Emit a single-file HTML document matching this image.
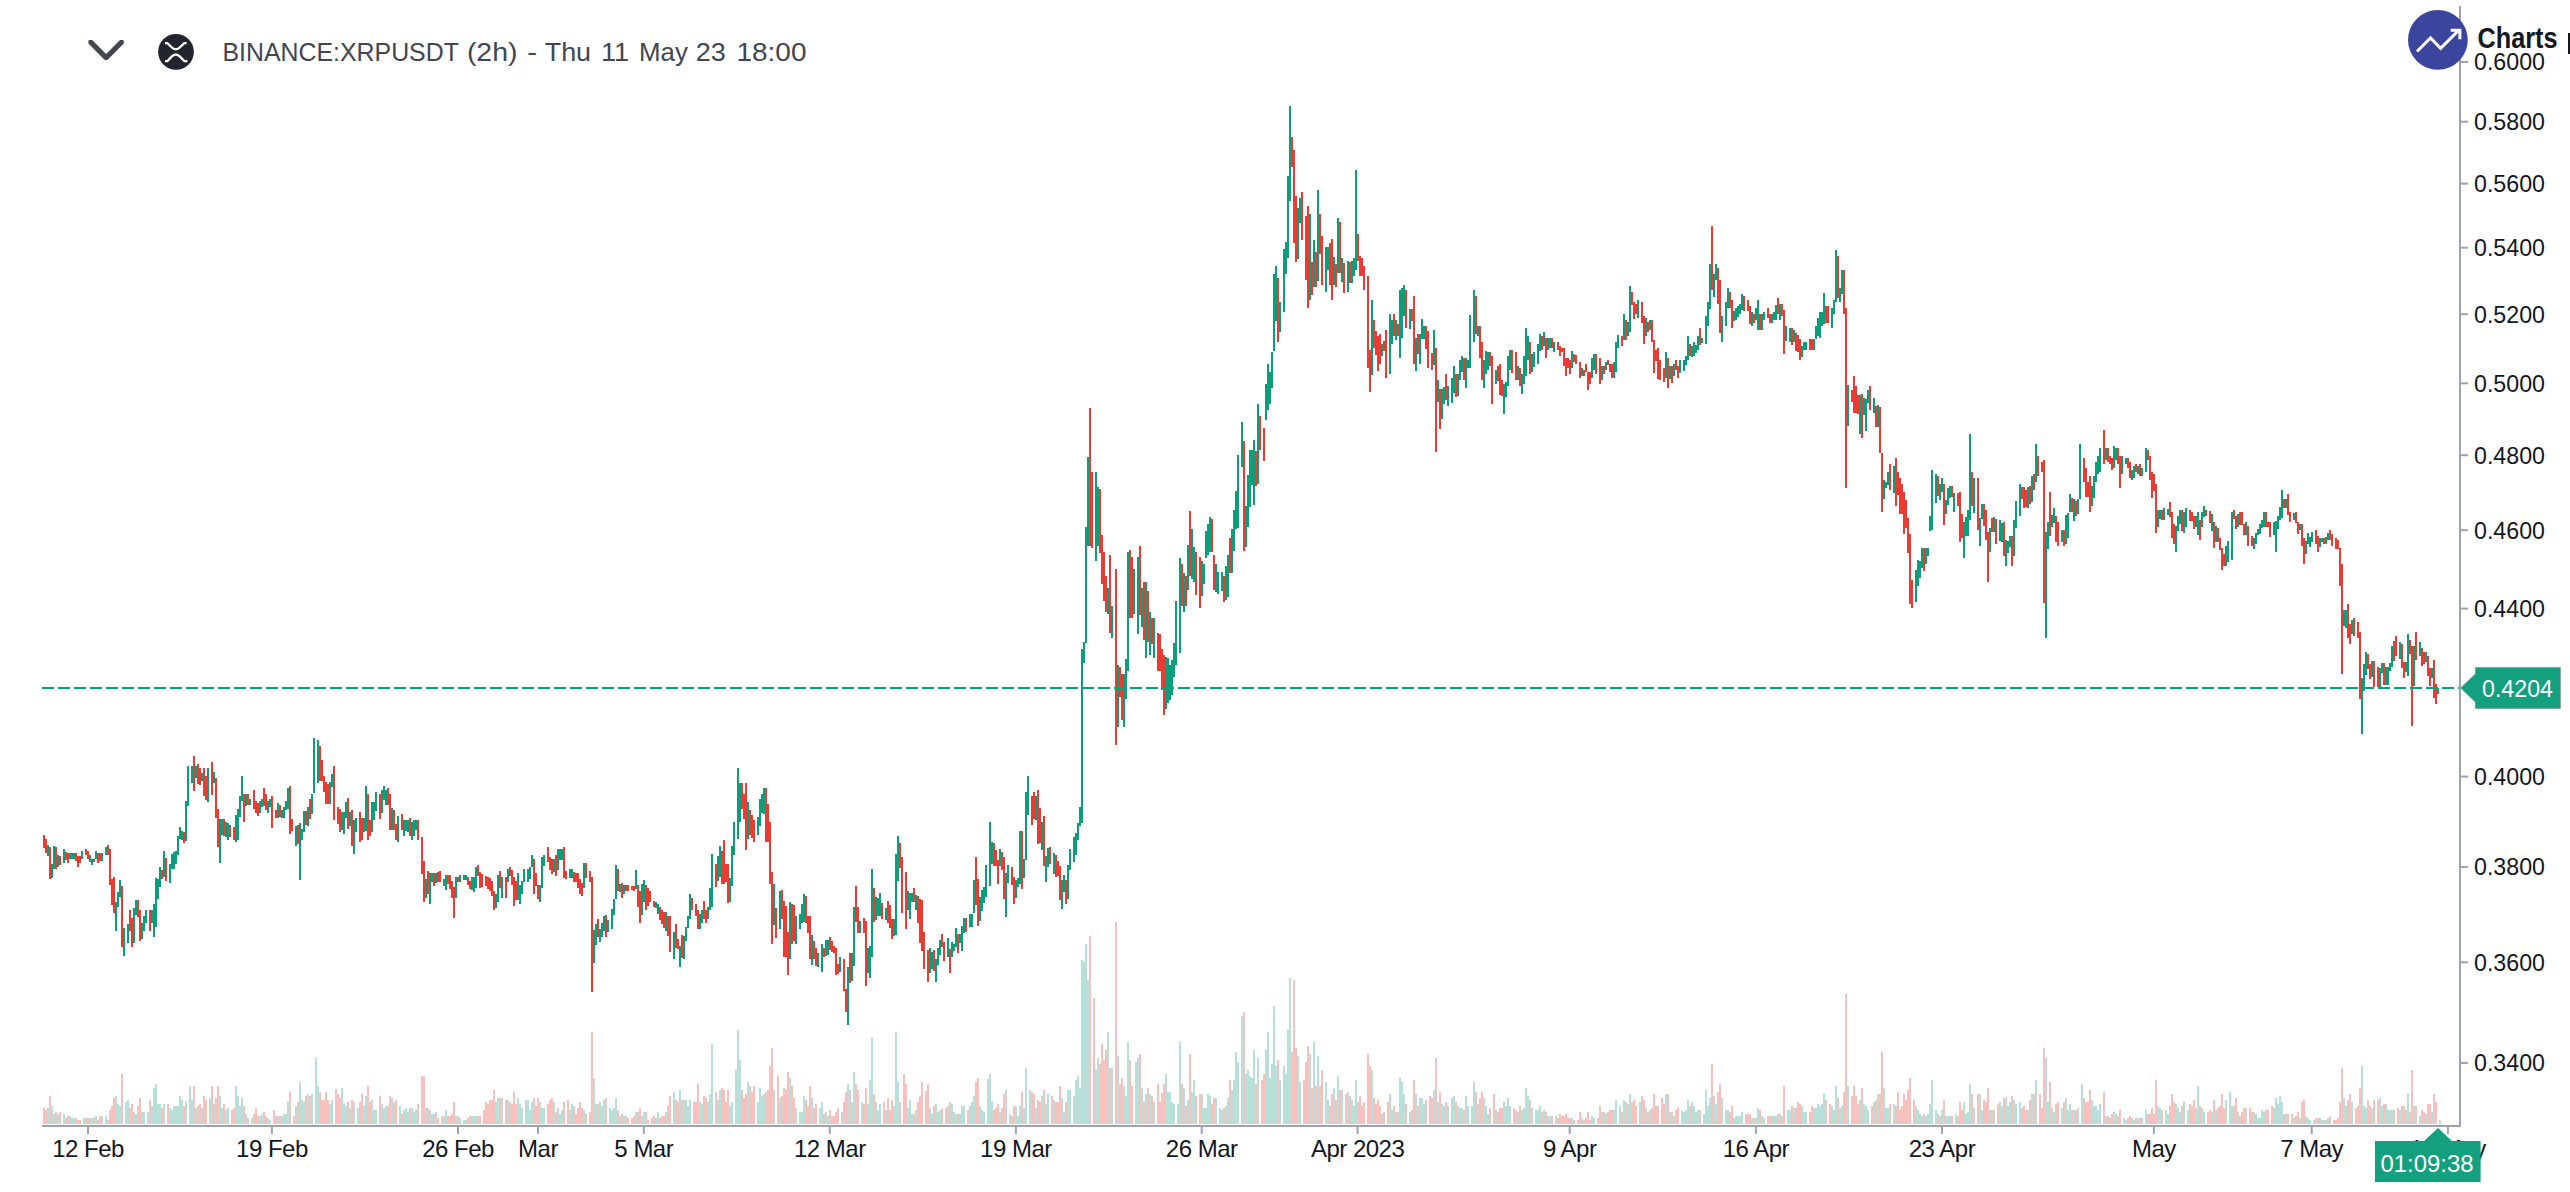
<!DOCTYPE html>
<html><head><meta charset="utf-8"><style>
html,body{margin:0;padding:0;background:#fff;width:2570px;height:1192px;overflow:hidden}
svg{position:absolute;left:0;top:0;font-family:"Liberation Sans",sans-serif}
</style></head><body>
<svg width="2570" height="1192" viewBox="0 0 2570 1192">
<g shape-rendering="crispEdges"><path fill="#b8e0d9" d="M47 1108.1h2V1124h-2zM51 1105.9h2V1124h-2zM53 1113.9h2V1124h-2zM57 1113.9h2V1124h-2zM63 1113.9h2V1124h-2zM69 1116.0h2V1124h-2zM71 1118.0h2V1124h-2zM73 1118.0h2V1124h-2zM83 1118.0h2V1124h-2zM89 1118.0h2V1124h-2zM91 1118.0h2V1124h-2zM95 1116.0h2V1124h-2zM101 1116.0h2V1124h-2zM105 1116.0h2V1124h-2zM115 1096.1h2V1124h-2zM117 1104.0h2V1124h-2zM119 1105.9h2V1124h-2zM125 1102.0h2V1124h-2zM127 1100.1h2V1124h-2zM133 1112.1h2V1124h-2zM135 1113.9h2V1124h-2zM141 1112.1h2V1124h-2zM143 1112.1h2V1124h-2zM147 1112.1h2V1124h-2zM151 1105.9h2V1124h-2zM153 1088.2h2V1124h-2zM155 1084.1h2V1124h-2zM157 1104.0h2V1124h-2zM159 1104.0h2V1124h-2zM163 1104.0h2V1124h-2zM169 1108.1h2V1124h-2zM171 1110.0h2V1124h-2zM173 1105.9h2V1124h-2zM175 1105.9h2V1124h-2zM177 1105.9h2V1124h-2zM179 1096.1h2V1124h-2zM181 1100.1h2V1124h-2zM185 1102.0h2V1124h-2zM189 1086.1h2V1124h-2zM191 1100.1h2V1124h-2zM195 1108.1h2V1124h-2zM201 1108.1h2V1124h-2zM209 1098.1h2V1124h-2zM213 1104.0h2V1124h-2zM219 1096.1h2V1124h-2zM221 1108.1h2V1124h-2zM225 1110.0h2V1124h-2zM227 1108.1h2V1124h-2zM235 1086.1h2V1124h-2zM237 1096.1h2V1124h-2zM239 1105.9h2V1124h-2zM241 1098.1h2V1124h-2zM245 1113.9h2V1124h-2zM251 1118.0h2V1124h-2zM259 1116.0h2V1124h-2zM261 1113.9h2V1124h-2zM267 1118.0h2V1124h-2zM269 1120.0h2V1124h-2zM277 1116.0h2V1124h-2zM281 1116.0h2V1124h-2zM283 1113.9h2V1124h-2zM285 1113.9h2V1124h-2zM287 1102.0h2V1124h-2zM295 1105.9h2V1124h-2zM299 1082.1h2V1124h-2zM301 1100.1h2V1124h-2zM303 1102.0h2V1124h-2zM307 1094.0h2V1124h-2zM311 1094.0h2V1124h-2zM315 1057.9h2V1124h-2zM317 1086.1h2V1124h-2zM329 1104.0h2V1124h-2zM331 1100.1h2V1124h-2zM341 1088.2h2V1124h-2zM343 1104.0h2V1124h-2zM345 1105.9h2V1124h-2zM349 1108.1h2V1124h-2zM353 1102.2h2V1124h-2zM357 1108.1h2V1124h-2zM363 1105.9h2V1124h-2zM365 1096.1h2V1124h-2zM371 1100.1h2V1124h-2zM373 1110.0h2V1124h-2zM375 1110.0h2V1124h-2zM381 1104.0h2V1124h-2zM383 1108.1h2V1124h-2zM385 1105.9h2V1124h-2zM391 1098.1h2V1124h-2zM399 1105.9h2V1124h-2zM403 1110.0h2V1124h-2zM405 1108.1h2V1124h-2zM407 1112.1h2V1124h-2zM411 1108.1h2V1124h-2zM413 1112.1h2V1124h-2zM415 1110.0h2V1124h-2zM425 1108.1h2V1124h-2zM429 1110.0h2V1124h-2zM431 1113.9h2V1124h-2zM435 1112.1h2V1124h-2zM443 1116.0h2V1124h-2zM445 1110.0h2V1124h-2zM455 1116.0h2V1124h-2zM459 1118.0h2V1124h-2zM463 1120.0h2V1124h-2zM465 1120.0h2V1124h-2zM471 1116.0h2V1124h-2zM473 1116.0h2V1124h-2zM475 1116.0h2V1124h-2zM495 1102.0h2V1124h-2zM497 1098.1h2V1124h-2zM501 1098.1h2V1124h-2zM507 1100.1h2V1124h-2zM517 1098.1h2V1124h-2zM519 1104.0h2V1124h-2zM521 1108.1h2V1124h-2zM525 1100.1h2V1124h-2zM527 1100.1h2V1124h-2zM529 1110.0h2V1124h-2zM531 1102.0h2V1124h-2zM539 1102.0h2V1124h-2zM541 1108.1h2V1124h-2zM543 1108.1h2V1124h-2zM553 1102.0h2V1124h-2zM557 1108.1h2V1124h-2zM559 1113.9h2V1124h-2zM561 1110.0h2V1124h-2zM569 1110.0h2V1124h-2zM571 1104.0h2V1124h-2zM583 1110.0h2V1124h-2zM593 1078.1h2V1124h-2zM595 1104.0h2V1124h-2zM599 1102.0h2V1124h-2zM601 1105.9h2V1124h-2zM603 1100.1h2V1124h-2zM609 1108.1h2V1124h-2zM611 1110.0h2V1124h-2zM613 1108.1h2V1124h-2zM615 1098.1h2V1124h-2zM619 1116.0h2V1124h-2zM623 1116.0h2V1124h-2zM635 1112.1h2V1124h-2zM641 1116.0h2V1124h-2zM643 1112.1h2V1124h-2zM655 1118.0h2V1124h-2zM657 1112.1h2V1124h-2zM665 1112.1h2V1124h-2zM673 1092.1h2V1124h-2zM679 1090.1h2V1124h-2zM683 1100.1h2V1124h-2zM685 1100.1h2V1124h-2zM687 1105.9h2V1124h-2zM689 1100.1h2V1124h-2zM699 1102.0h2V1124h-2zM701 1104.0h2V1124h-2zM707 1102.0h2V1124h-2zM709 1094.0h2V1124h-2zM711 1044.1h2V1124h-2zM717 1100.1h2V1124h-2zM719 1090.1h2V1124h-2zM729 1105.9h2V1124h-2zM731 1102.0h2V1124h-2zM735 1070.1h2V1124h-2zM737 1030.1h2V1124h-2zM739 1060.2h2V1124h-2zM747 1082.1h2V1124h-2zM757 1102.0h2V1124h-2zM759 1088.2h2V1124h-2zM761 1096.1h2V1124h-2zM763 1094.0h2V1124h-2zM773 1090.1h2V1124h-2zM779 1098.1h2V1124h-2zM789 1078.1h2V1124h-2zM795 1108.1h2V1124h-2zM799 1112.1h2V1124h-2zM801 1112.1h2V1124h-2zM803 1096.1h2V1124h-2zM811 1098.1h2V1124h-2zM819 1108.1h2V1124h-2zM821 1102.0h2V1124h-2zM825 1112.1h2V1124h-2zM827 1116.0h2V1124h-2zM841 1112.1h2V1124h-2zM847 1084.1h2V1124h-2zM851 1102.0h2V1124h-2zM853 1072.1h2V1124h-2zM861 1102.0h2V1124h-2zM867 1104.0h2V1124h-2zM869 1080.0h2V1124h-2zM871 1038.0h2V1124h-2zM875 1102.0h2V1124h-2zM877 1110.0h2V1124h-2zM879 1104.0h2V1124h-2zM885 1110.0h2V1124h-2zM893 1105.9h2V1124h-2zM895 1032.2h2V1124h-2zM897 1082.1h2V1124h-2zM907 1108.1h2V1124h-2zM909 1100.1h2V1124h-2zM911 1113.9h2V1124h-2zM915 1110.0h2V1124h-2zM929 1108.0h2V1124h-2zM931 1113.7h2V1124h-2zM935 1104.1h2V1124h-2zM937 1112.1h2V1124h-2zM939 1110.2h2V1124h-2zM947 1106.2h2V1124h-2zM951 1104.1h2V1124h-2zM953 1112.1h2V1124h-2zM955 1113.7h2V1124h-2zM959 1113.7h2V1124h-2zM961 1106.2h2V1124h-2zM963 1106.2h2V1124h-2zM969 1106.2h2V1124h-2zM971 1102.1h2V1124h-2zM973 1096.1h2V1124h-2zM979 1106.2h2V1124h-2zM981 1110.2h2V1124h-2zM983 1112.1h2V1124h-2zM987 1079.1h2V1124h-2zM989 1074.1h2V1124h-2zM991 1102.1h2V1124h-2zM999 1112.1h2V1124h-2zM1005 1090.2h2V1124h-2zM1009 1113.7h2V1124h-2zM1015 1106.2h2V1124h-2zM1017 1116.1h2V1124h-2zM1019 1106.2h2V1124h-2zM1023 1108.0h2V1124h-2zM1025 1067.8h2V1124h-2zM1029 1089.6h2V1124h-2zM1035 1108.0h2V1124h-2zM1041 1096.1h2V1124h-2zM1045 1104.1h2V1124h-2zM1047 1094.1h2V1124h-2zM1053 1100.0h2V1124h-2zM1061 1098.0h2V1124h-2zM1063 1112.1h2V1124h-2zM1067 1090.2h2V1124h-2zM1069 1090.2h2V1124h-2zM1073 1096.1h2V1124h-2zM1075 1080.3h2V1124h-2zM1077 1076.2h2V1124h-2zM1079 1088.0h2V1124h-2zM1081 960.0h2V1124h-2zM1083 961.8h2V1124h-2zM1085 944.0h2V1124h-2zM1087 980.2h2V1124h-2zM1095 1070.1h2V1124h-2zM1097 1058.0h2V1124h-2zM1107 1032.1h2V1124h-2zM1111 1067.8h2V1124h-2zM1117 1056.2h2V1124h-2zM1123 1086.1h2V1124h-2zM1125 1096.0h2V1124h-2zM1127 1042.2h2V1124h-2zM1135 1062.2h2V1124h-2zM1137 1058.2h2V1124h-2zM1141 1088.3h2V1124h-2zM1145 1094.2h2V1124h-2zM1149 1094.2h2V1124h-2zM1153 1102.1h2V1124h-2zM1165 1074.2h2V1124h-2zM1167 1092.2h2V1124h-2zM1169 1092.2h2V1124h-2zM1171 1102.1h2V1124h-2zM1173 1104.0h2V1124h-2zM1177 1104.0h2V1124h-2zM1179 1042.2h2V1124h-2zM1183 1088.3h2V1124h-2zM1187 1100.2h2V1124h-2zM1191 1092.2h2V1124h-2zM1193 1080.1h2V1124h-2zM1201 1094.2h2V1124h-2zM1203 1108.0h2V1124h-2zM1205 1108.0h2V1124h-2zM1207 1094.2h2V1124h-2zM1209 1096.0h2V1124h-2zM1215 1098.1h2V1124h-2zM1219 1108.0h2V1124h-2zM1221 1110.1h2V1124h-2zM1225 1106.0h2V1124h-2zM1227 1098.1h2V1124h-2zM1231 1090.1h2V1124h-2zM1233 1080.1h2V1124h-2zM1235 1052.3h2V1124h-2zM1237 1062.2h2V1124h-2zM1241 1016.1h2V1124h-2zM1245 1074.2h2V1124h-2zM1247 1069.9h2V1124h-2zM1249 1076.3h2V1124h-2zM1251 1078.1h2V1124h-2zM1253 1050.2h2V1124h-2zM1257 1058.2h2V1124h-2zM1265 1050.2h2V1124h-2zM1267 1032.2h2V1124h-2zM1269 1078.1h2V1124h-2zM1271 1064.3h2V1124h-2zM1273 1006.1h2V1124h-2zM1275 1066.0h2V1124h-2zM1279 1080.1h2V1124h-2zM1283 1066.0h2V1124h-2zM1285 1074.2h2V1124h-2zM1287 1030.2h2V1124h-2zM1289 978.0h2V1124h-2zM1297 1056.3h2V1124h-2zM1299 1082.2h2V1124h-2zM1309 1054.2h2V1124h-2zM1313 1042.2h2V1124h-2zM1317 1056.3h2V1124h-2zM1325 1082.1h2V1124h-2zM1327 1100.1h2V1124h-2zM1333 1088.2h2V1124h-2zM1337 1076.1h2V1124h-2zM1341 1090.1h2V1124h-2zM1347 1092.1h2V1124h-2zM1351 1100.1h2V1124h-2zM1353 1105.9h2V1124h-2zM1355 1080.0h2V1124h-2zM1371 1070.1h2V1124h-2zM1381 1113.9h2V1124h-2zM1389 1094.0h2V1124h-2zM1391 1110.0h2V1124h-2zM1395 1112.1h2V1124h-2zM1399 1078.1h2V1124h-2zM1401 1082.1h2V1124h-2zM1403 1094.0h2V1124h-2zM1409 1112.1h2V1124h-2zM1415 1094.0h2V1124h-2zM1419 1098.1h2V1124h-2zM1421 1098.1h2V1124h-2zM1423 1104.0h2V1124h-2zM1433 1090.1h2V1124h-2zM1437 1102.0h2V1124h-2zM1441 1104.0h2V1124h-2zM1443 1105.9h2V1124h-2zM1447 1105.9h2V1124h-2zM1451 1098.1h2V1124h-2zM1453 1096.1h2V1124h-2zM1457 1105.9h2V1124h-2zM1459 1108.1h2V1124h-2zM1461 1108.1h2V1124h-2zM1465 1096.1h2V1124h-2zM1467 1105.9h2V1124h-2zM1471 1105.9h2V1124h-2zM1473 1082.1h2V1124h-2zM1477 1104.0h2V1124h-2zM1483 1098.1h2V1124h-2zM1485 1105.9h2V1124h-2zM1487 1113.9h2V1124h-2zM1495 1110.0h2V1124h-2zM1503 1102.0h2V1124h-2zM1505 1105.9h2V1124h-2zM1507 1098.1h2V1124h-2zM1509 1105.9h2V1124h-2zM1517 1112.1h2V1124h-2zM1521 1110.0h2V1124h-2zM1523 1108.1h2V1124h-2zM1525 1088.2h2V1124h-2zM1527 1096.1h2V1124h-2zM1531 1108.1h2V1124h-2zM1535 1110.0h2V1124h-2zM1537 1110.0h2V1124h-2zM1539 1105.9h2V1124h-2zM1543 1110.0h2V1124h-2zM1547 1116.0h2V1124h-2zM1549 1116.0h2V1124h-2zM1555 1116.0h2V1124h-2zM1571 1118.0h2V1124h-2zM1581 1118.0h2V1124h-2zM1591 1116.0h2V1124h-2zM1593 1118.0h2V1124h-2zM1601 1112.1h2V1124h-2zM1605 1113.9h2V1124h-2zM1613 1110.1h2V1124h-2zM1615 1100.2h2V1124h-2zM1619 1106.0h2V1124h-2zM1623 1100.2h2V1124h-2zM1627 1104.2h2V1124h-2zM1629 1094.2h2V1124h-2zM1639 1102.3h2V1124h-2zM1645 1108.2h2V1124h-2zM1649 1110.1h2V1124h-2zM1665 1094.2h2V1124h-2zM1669 1112.0h2V1124h-2zM1673 1116.0h2V1124h-2zM1681 1111.1h2V1124h-2zM1683 1112.0h2V1124h-2zM1685 1110.1h2V1124h-2zM1687 1100.2h2V1124h-2zM1691 1102.3h2V1124h-2zM1693 1106.0h2V1124h-2zM1695 1112.0h2V1124h-2zM1697 1110.1h2V1124h-2zM1703 1114.1h2V1124h-2zM1705 1090.3h2V1124h-2zM1707 1106.0h2V1124h-2zM1709 1098.2h2V1124h-2zM1713 1096.1h2V1124h-2zM1715 1104.2h2V1124h-2zM1721 1098.2h2V1124h-2zM1725 1110.1h2V1124h-2zM1727 1110.1h2V1124h-2zM1733 1118.1h2V1124h-2zM1735 1116.0h2V1124h-2zM1737 1116.0h2V1124h-2zM1739 1116.0h2V1124h-2zM1741 1112.0h2V1124h-2zM1751 1118.1h2V1124h-2zM1755 1118.1h2V1124h-2zM1757 1108.2h2V1124h-2zM1761 1116.0h2V1124h-2zM1763 1118.1h2V1124h-2zM1771 1116.0h2V1124h-2zM1773 1116.0h2V1124h-2zM1775 1116.0h2V1124h-2zM1779 1114.1h2V1124h-2zM1787 1110.1h2V1124h-2zM1789 1110.1h2V1124h-2zM1793 1108.2h2V1124h-2zM1801 1106.0h2V1124h-2zM1803 1112.0h2V1124h-2zM1805 1112.0h2V1124h-2zM1813 1108.2h2V1124h-2zM1815 1108.2h2V1124h-2zM1817 1104.2h2V1124h-2zM1819 1106.0h2V1124h-2zM1821 1104.2h2V1124h-2zM1823 1094.2h2V1124h-2zM1831 1106.0h2V1124h-2zM1833 1110.1h2V1124h-2zM1835 1086.2h2V1124h-2zM1839 1108.2h2V1124h-2zM1841 1106.0h2V1124h-2zM1847 1086.2h2V1124h-2zM1859 1100.2h2V1124h-2zM1863 1104.2h2V1124h-2zM1865 1106.0h2V1124h-2zM1867 1110.1h2V1124h-2zM1873 1102.3h2V1124h-2zM1877 1094.2h2V1124h-2zM1883 1088.3h2V1124h-2zM1885 1108.2h2V1124h-2zM1887 1108.2h2V1124h-2zM1893 1104.2h2V1124h-2zM1915 1105.9h2V1124h-2zM1917 1110.0h2V1124h-2zM1919 1113.9h2V1124h-2zM1921 1116.0h2V1124h-2zM1925 1116.0h2V1124h-2zM1927 1113.9h2V1124h-2zM1929 1104.0h2V1124h-2zM1931 1080.0h2V1124h-2zM1935 1110.0h2V1124h-2zM1939 1116.0h2V1124h-2zM1941 1110.0h2V1124h-2zM1945 1116.0h2V1124h-2zM1947 1116.0h2V1124h-2zM1949 1116.0h2V1124h-2zM1955 1113.9h2V1124h-2zM1963 1102.0h2V1124h-2zM1965 1113.9h2V1124h-2zM1967 1112.1h2V1124h-2zM1969 1084.1h2V1124h-2zM1973 1108.1h2V1124h-2zM1979 1094.0h2V1124h-2zM1981 1110.0h2V1124h-2zM1989 1110.0h2V1124h-2zM1993 1110.0h2V1124h-2zM1999 1102.0h2V1124h-2zM2001 1105.9h2V1124h-2zM2005 1098.1h2V1124h-2zM2007 1105.9h2V1124h-2zM2009 1102.0h2V1124h-2zM2013 1100.1h2V1124h-2zM2015 1104.0h2V1124h-2zM2019 1102.0h2V1124h-2zM2027 1110.0h2V1124h-2zM2031 1094.0h2V1124h-2zM2035 1080.0h2V1124h-2zM2045 1058.1h2V1124h-2zM2047 1102.0h2V1124h-2zM2051 1108.1h2V1124h-2zM2053 1112.1h2V1124h-2zM2061 1108.1h2V1124h-2zM2065 1098.1h2V1124h-2zM2067 1110.0h2V1124h-2zM2069 1104.0h2V1124h-2zM2073 1110.0h2V1124h-2zM2077 1108.1h2V1124h-2zM2081 1084.1h2V1124h-2zM2091 1100.1h2V1124h-2zM2093 1105.9h2V1124h-2zM2095 1105.9h2V1124h-2zM2097 1110.0h2V1124h-2zM2099 1104.0h2V1124h-2zM2105 1116.0h2V1124h-2zM2113 1112.1h2V1124h-2zM2115 1113.9h2V1124h-2zM2123 1118.0h2V1124h-2zM2125 1120.0h2V1124h-2zM2131 1118.0h2V1124h-2zM2133 1120.0h2V1124h-2zM2137 1118.0h2V1124h-2zM2141 1118.0h2V1124h-2zM2145 1110.0h2V1124h-2zM2157 1105.9h2V1124h-2zM2159 1108.1h2V1124h-2zM2165 1110.0h2V1124h-2zM2167 1113.9h2V1124h-2zM2175 1104.0h2V1124h-2zM2177 1108.1h2V1124h-2zM2179 1112.1h2V1124h-2zM2183 1102.0h2V1124h-2zM2187 1110.0h2V1124h-2zM2195 1108.1h2V1124h-2zM2197 1086.1h2V1124h-2zM2201 1108.0h2V1124h-2zM2203 1112.0h2V1124h-2zM2211 1112.0h2V1124h-2zM2215 1110.0h2V1124h-2zM2225 1100.1h2V1124h-2zM2229 1092.2h2V1124h-2zM2231 1106.0h2V1124h-2zM2237 1112.0h2V1124h-2zM2245 1108.0h2V1124h-2zM2253 1112.0h2V1124h-2zM2255 1114.0h2V1124h-2zM2257 1117.9h2V1124h-2zM2259 1117.9h2V1124h-2zM2261 1110.0h2V1124h-2zM2263 1112.0h2V1124h-2zM2273 1108.0h2V1124h-2zM2275 1098.1h2V1124h-2zM2277 1104.1h2V1124h-2zM2279 1096.1h2V1124h-2zM2281 1102.1h2V1124h-2zM2285 1114.0h2V1124h-2zM2293 1117.9h2V1124h-2zM2299 1117.9h2V1124h-2zM2305 1115.9h2V1124h-2zM2307 1117.9h2V1124h-2zM2309 1119.9h2V1124h-2zM2313 1119.9h2V1124h-2zM2319 1117.9h2V1124h-2zM2321 1119.9h2V1124h-2zM2325 1119.9h2V1124h-2zM2327 1117.9h2V1124h-2zM2343 1098.1h2V1124h-2zM2345 1106.0h2V1124h-2zM2351 1102.1h2V1124h-2zM2361 1065.9h2V1124h-2zM2363 1106.0h2V1124h-2zM2365 1108.0h2V1124h-2zM2371 1108.0h2V1124h-2zM2379 1098.1h2V1124h-2zM2381 1106.0h2V1124h-2zM2385 1104.1h2V1124h-2zM2387 1110.0h2V1124h-2zM2389 1110.0h2V1124h-2zM2391 1110.0h2V1124h-2zM2399 1110.0h2V1124h-2zM2405 1110.0h2V1124h-2zM2407 1094.2h2V1124h-2zM2413 1106.0h2V1124h-2zM2419 1115.9h2V1124h-2zM2425 1114.0h2V1124h-2zM2431 1112.0h2V1124h-2zM2439 1119.9h2V1124h-2z"/>
<path fill="#f7c1bf" d="M43 1108.1h2V1124h-2zM45 1109.8h2V1124h-2zM49 1096.1h2V1124h-2zM55 1112.1h2V1124h-2zM59 1112.1h2V1124h-2zM65 1118.0h2V1124h-2zM67 1116.0h2V1124h-2zM75 1118.0h2V1124h-2zM77 1120.0h2V1124h-2zM79 1120.0h2V1124h-2zM85 1118.0h2V1124h-2zM87 1118.0h2V1124h-2zM93 1118.0h2V1124h-2zM97 1120.0h2V1124h-2zM99 1116.0h2V1124h-2zM107 1120.0h2V1124h-2zM109 1110.0h2V1124h-2zM111 1105.9h2V1124h-2zM113 1098.1h2V1124h-2zM121 1074.0h2V1124h-2zM129 1108.1h2V1124h-2zM131 1104.0h2V1124h-2zM137 1105.9h2V1124h-2zM139 1098.1h2V1124h-2zM149 1100.1h2V1124h-2zM161 1108.1h2V1124h-2zM167 1104.0h2V1124h-2zM183 1105.9h2V1124h-2zM193 1086.1h2V1124h-2zM197 1105.9h2V1124h-2zM199 1104.0h2V1124h-2zM203 1096.1h2V1124h-2zM205 1100.1h2V1124h-2zM211 1086.1h2V1124h-2zM215 1098.1h2V1124h-2zM217 1086.1h2V1124h-2zM223 1104.0h2V1124h-2zM231 1110.0h2V1124h-2zM233 1108.1h2V1124h-2zM243 1105.9h2V1124h-2zM247 1118.0h2V1124h-2zM253 1113.9h2V1124h-2zM255 1108.1h2V1124h-2zM257 1116.0h2V1124h-2zM263 1112.1h2V1124h-2zM265 1116.0h2V1124h-2zM273 1110.0h2V1124h-2zM275 1116.0h2V1124h-2zM279 1116.0h2V1124h-2zM289 1092.3h2V1124h-2zM293 1116.0h2V1124h-2zM297 1102.0h2V1124h-2zM305 1096.1h2V1124h-2zM309 1096.1h2V1124h-2zM319 1092.3h2V1124h-2zM321 1100.1h2V1124h-2zM323 1100.1h2V1124h-2zM325 1092.3h2V1124h-2zM327 1100.1h2V1124h-2zM335 1089.0h2V1124h-2zM337 1094.0h2V1124h-2zM339 1098.1h2V1124h-2zM347 1102.2h2V1124h-2zM351 1100.1h2V1124h-2zM359 1102.2h2V1124h-2zM361 1094.0h2V1124h-2zM367 1086.1h2V1124h-2zM369 1102.2h2V1124h-2zM379 1096.1h2V1124h-2zM387 1105.9h2V1124h-2zM389 1096.1h2V1124h-2zM393 1102.2h2V1124h-2zM395 1100.1h2V1124h-2zM401 1113.9h2V1124h-2zM409 1108.1h2V1124h-2zM417 1104.0h2V1124h-2zM421 1076.0h2V1124h-2zM423 1076.0h2V1124h-2zM427 1108.1h2V1124h-2zM433 1113.9h2V1124h-2zM437 1118.0h2V1124h-2zM441 1116.0h2V1124h-2zM447 1116.0h2V1124h-2zM449 1116.0h2V1124h-2zM451 1113.9h2V1124h-2zM453 1102.0h2V1124h-2zM457 1116.0h2V1124h-2zM467 1118.0h2V1124h-2zM469 1116.0h2V1124h-2zM477 1116.0h2V1124h-2zM479 1116.0h2V1124h-2zM483 1110.0h2V1124h-2zM485 1102.0h2V1124h-2zM487 1104.0h2V1124h-2zM489 1100.1h2V1124h-2zM491 1100.1h2V1124h-2zM493 1090.1h2V1124h-2zM499 1098.1h2V1124h-2zM505 1100.1h2V1124h-2zM509 1102.0h2V1124h-2zM511 1104.0h2V1124h-2zM513 1092.1h2V1124h-2zM515 1104.0h2V1124h-2zM533 1098.1h2V1124h-2zM535 1105.9h2V1124h-2zM537 1098.1h2V1124h-2zM547 1104.0h2V1124h-2zM549 1100.1h2V1124h-2zM551 1098.1h2V1124h-2zM555 1112.1h2V1124h-2zM563 1102.0h2V1124h-2zM567 1100.1h2V1124h-2zM573 1105.9h2V1124h-2zM575 1113.9h2V1124h-2zM577 1108.1h2V1124h-2zM579 1102.0h2V1124h-2zM581 1108.1h2V1124h-2zM585 1113.9h2V1124h-2zM589 1112.1h2V1124h-2zM591 1031.9h2V1124h-2zM597 1104.0h2V1124h-2zM605 1098.1h2V1124h-2zM617 1110.0h2V1124h-2zM621 1113.9h2V1124h-2zM625 1116.0h2V1124h-2zM627 1118.0h2V1124h-2zM631 1118.0h2V1124h-2zM633 1116.0h2V1124h-2zM637 1112.1h2V1124h-2zM639 1108.1h2V1124h-2zM645 1112.1h2V1124h-2zM647 1120.0h2V1124h-2zM651 1118.0h2V1124h-2zM653 1116.0h2V1124h-2zM659 1118.0h2V1124h-2zM661 1116.0h2V1124h-2zM663 1116.0h2V1124h-2zM667 1105.9h2V1124h-2zM669 1096.1h2V1124h-2zM675 1100.1h2V1124h-2zM677 1102.0h2V1124h-2zM681 1100.1h2V1124h-2zM693 1102.0h2V1124h-2zM695 1102.0h2V1124h-2zM697 1084.1h2V1124h-2zM703 1096.1h2V1124h-2zM705 1098.1h2V1124h-2zM715 1092.1h2V1124h-2zM721 1088.2h2V1124h-2zM723 1090.1h2V1124h-2zM725 1102.0h2V1124h-2zM727 1090.1h2V1124h-2zM741 1090.1h2V1124h-2zM743 1098.1h2V1124h-2zM745 1094.0h2V1124h-2zM749 1086.1h2V1124h-2zM751 1092.1h2V1124h-2zM753 1086.1h2V1124h-2zM765 1092.1h2V1124h-2zM767 1090.1h2V1124h-2zM769 1066.0h2V1124h-2zM771 1048.1h2V1124h-2zM777 1076.1h2V1124h-2zM781 1096.1h2V1124h-2zM783 1088.2h2V1124h-2zM785 1090.1h2V1124h-2zM787 1072.1h2V1124h-2zM791 1086.1h2V1124h-2zM793 1098.1h2V1124h-2zM805 1100.1h2V1124h-2zM807 1105.9h2V1124h-2zM809 1086.1h2V1124h-2zM813 1108.1h2V1124h-2zM815 1104.0h2V1124h-2zM823 1113.9h2V1124h-2zM829 1110.0h2V1124h-2zM831 1116.0h2V1124h-2zM833 1116.0h2V1124h-2zM835 1112.1h2V1124h-2zM837 1108.1h2V1124h-2zM843 1102.0h2V1124h-2zM845 1092.1h2V1124h-2zM849 1090.1h2V1124h-2zM855 1084.1h2V1124h-2zM857 1090.1h2V1124h-2zM863 1104.0h2V1124h-2zM865 1088.2h2V1124h-2zM873 1094.0h2V1124h-2zM883 1102.0h2V1124h-2zM887 1098.1h2V1124h-2zM889 1110.0h2V1124h-2zM891 1100.1h2V1124h-2zM899 1102.0h2V1124h-2zM903 1074.0h2V1124h-2zM905 1084.1h2V1124h-2zM913 1113.9h2V1124h-2zM917 1102.0h2V1124h-2zM919 1096.1h2V1124h-2zM921 1082.1h2V1124h-2zM925 1090.5h2V1124h-2zM927 1083.9h2V1124h-2zM933 1106.2h2V1124h-2zM941 1108.0h2V1124h-2zM945 1108.0h2V1124h-2zM949 1102.1h2V1124h-2zM957 1113.7h2V1124h-2zM967 1110.2h2V1124h-2zM975 1082.1h2V1124h-2zM977 1078.2h2V1124h-2zM993 1110.2h2V1124h-2zM995 1108.0h2V1124h-2zM997 1104.1h2V1124h-2zM1001 1108.0h2V1124h-2zM1003 1094.1h2V1124h-2zM1011 1116.1h2V1124h-2zM1013 1106.2h2V1124h-2zM1021 1091.9h2V1124h-2zM1031 1091.9h2V1124h-2zM1033 1094.1h2V1124h-2zM1037 1100.0h2V1124h-2zM1039 1102.1h2V1124h-2zM1043 1090.2h2V1124h-2zM1051 1096.1h2V1124h-2zM1055 1102.1h2V1124h-2zM1057 1102.1h2V1124h-2zM1059 1086.2h2V1124h-2zM1065 1102.1h2V1124h-2zM1089 936.1h2V1124h-2zM1093 998.1h2V1124h-2zM1099 1064.2h2V1124h-2zM1101 1044.0h2V1124h-2zM1103 1060.1h2V1124h-2zM1105 1049.9h2V1124h-2zM1109 1067.8h2V1124h-2zM1115 922.1h2V1124h-2zM1119 1083.9h2V1124h-2zM1121 1078.2h2V1124h-2zM1129 1060.1h2V1124h-2zM1131 1086.1h2V1124h-2zM1139 1054.2h2V1124h-2zM1143 1102.1h2V1124h-2zM1147 1088.3h2V1124h-2zM1151 1096.0h2V1124h-2zM1157 1084.0h2V1124h-2zM1159 1102.1h2V1124h-2zM1161 1092.5h2V1124h-2zM1163 1084.0h2V1124h-2zM1181 1084.0h2V1124h-2zM1185 1106.0h2V1124h-2zM1189 1054.2h2V1124h-2zM1195 1096.0h2V1124h-2zM1199 1094.2h2V1124h-2zM1211 1104.0h2V1124h-2zM1213 1098.1h2V1124h-2zM1223 1108.0h2V1124h-2zM1229 1080.1h2V1124h-2zM1243 1012.1h2V1124h-2zM1255 1084.0h2V1124h-2zM1261 1080.1h2V1124h-2zM1263 1074.2h2V1124h-2zM1277 1060.1h2V1124h-2zM1291 1052.3h2V1124h-2zM1293 980.2h2V1124h-2zM1295 1048.1h2V1124h-2zM1303 1080.1h2V1124h-2zM1305 1062.2h2V1124h-2zM1307 1046.3h2V1124h-2zM1311 1088.3h2V1124h-2zM1315 1086.1h2V1124h-2zM1319 1086.1h2V1124h-2zM1321 1070.1h2V1124h-2zM1329 1105.9h2V1124h-2zM1331 1094.0h2V1124h-2zM1335 1100.1h2V1124h-2zM1339 1090.1h2V1124h-2zM1345 1094.0h2V1124h-2zM1349 1096.1h2V1124h-2zM1357 1102.0h2V1124h-2zM1359 1096.1h2V1124h-2zM1361 1105.9h2V1124h-2zM1363 1102.0h2V1124h-2zM1367 1054.1h2V1124h-2zM1369 1066.0h2V1124h-2zM1373 1098.1h2V1124h-2zM1375 1104.0h2V1124h-2zM1377 1100.1h2V1124h-2zM1379 1105.9h2V1124h-2zM1383 1112.1h2V1124h-2zM1387 1102.0h2V1124h-2zM1393 1105.9h2V1124h-2zM1397 1112.1h2V1124h-2zM1405 1104.0h2V1124h-2zM1411 1110.0h2V1124h-2zM1413 1080.0h2V1124h-2zM1417 1105.9h2V1124h-2zM1425 1100.1h2V1124h-2zM1429 1096.1h2V1124h-2zM1431 1098.1h2V1124h-2zM1435 1058.1h2V1124h-2zM1439 1092.1h2V1124h-2zM1445 1102.0h2V1124h-2zM1455 1102.0h2V1124h-2zM1463 1110.0h2V1124h-2zM1475 1092.1h2V1124h-2zM1479 1098.1h2V1124h-2zM1481 1092.1h2V1124h-2zM1489 1108.1h2V1124h-2zM1493 1094.0h2V1124h-2zM1497 1112.1h2V1124h-2zM1499 1108.1h2V1124h-2zM1501 1108.1h2V1124h-2zM1513 1108.1h2V1124h-2zM1515 1110.0h2V1124h-2zM1519 1105.9h2V1124h-2zM1529 1100.1h2V1124h-2zM1541 1112.1h2V1124h-2zM1545 1112.1h2V1124h-2zM1551 1116.0h2V1124h-2zM1557 1118.0h2V1124h-2zM1559 1113.9h2V1124h-2zM1561 1116.0h2V1124h-2zM1563 1116.0h2V1124h-2zM1565 1113.9h2V1124h-2zM1567 1118.0h2V1124h-2zM1569 1118.0h2V1124h-2zM1573 1120.0h2V1124h-2zM1577 1120.0h2V1124h-2zM1579 1112.1h2V1124h-2zM1583 1120.0h2V1124h-2zM1585 1118.0h2V1124h-2zM1587 1112.1h2V1124h-2zM1589 1120.0h2V1124h-2zM1597 1118.0h2V1124h-2zM1599 1105.9h2V1124h-2zM1603 1112.1h2V1124h-2zM1607 1112.1h2V1124h-2zM1609 1110.0h2V1124h-2zM1611 1110.0h2V1124h-2zM1621 1112.0h2V1124h-2zM1625 1102.3h2V1124h-2zM1631 1102.3h2V1124h-2zM1633 1100.2h2V1124h-2zM1635 1106.0h2V1124h-2zM1641 1096.1h2V1124h-2zM1643 1100.2h2V1124h-2zM1647 1112.0h2V1124h-2zM1651 1108.2h2V1124h-2zM1653 1094.2h2V1124h-2zM1655 1106.0h2V1124h-2zM1657 1106.0h2V1124h-2zM1661 1098.2h2V1124h-2zM1663 1104.2h2V1124h-2zM1667 1094.2h2V1124h-2zM1671 1112.0h2V1124h-2zM1675 1110.1h2V1124h-2zM1677 1108.2h2V1124h-2zM1689 1106.0h2V1124h-2zM1699 1110.1h2V1124h-2zM1711 1064.2h2V1124h-2zM1717 1092.4h2V1124h-2zM1719 1084.3h2V1124h-2zM1729 1112.0h2V1124h-2zM1731 1106.0h2V1124h-2zM1745 1114.1h2V1124h-2zM1747 1114.1h2V1124h-2zM1749 1114.1h2V1124h-2zM1753 1118.1h2V1124h-2zM1759 1110.1h2V1124h-2zM1767 1116.0h2V1124h-2zM1769 1116.0h2V1124h-2zM1777 1114.1h2V1124h-2zM1781 1116.0h2V1124h-2zM1783 1086.2h2V1124h-2zM1791 1106.0h2V1124h-2zM1795 1108.2h2V1124h-2zM1797 1102.3h2V1124h-2zM1799 1104.2h2V1124h-2zM1809 1112.0h2V1124h-2zM1811 1106.0h2V1124h-2zM1825 1100.2h2V1124h-2zM1829 1104.2h2V1124h-2zM1837 1098.2h2V1124h-2zM1843 1092.4h2V1124h-2zM1845 994.3h2V1124h-2zM1851 1096.1h2V1124h-2zM1853 1086.2h2V1124h-2zM1855 1096.1h2V1124h-2zM1857 1104.2h2V1124h-2zM1861 1088.3h2V1124h-2zM1871 1106.0h2V1124h-2zM1875 1100.2h2V1124h-2zM1879 1094.2h2V1124h-2zM1881 1052.0h2V1124h-2zM1889 1104.2h2V1124h-2zM1895 1106.0h2V1124h-2zM1897 1092.4h2V1124h-2zM1899 1110.1h2V1124h-2zM1901 1106.0h2V1124h-2zM1903 1094.2h2V1124h-2zM1905 1100.2h2V1124h-2zM1907 1090.1h2V1124h-2zM1909 1078.1h2V1124h-2zM1913 1100.1h2V1124h-2zM1923 1113.9h2V1124h-2zM1937 1113.9h2V1124h-2zM1943 1100.1h2V1124h-2zM1951 1116.0h2V1124h-2zM1957 1116.0h2V1124h-2zM1959 1102.0h2V1124h-2zM1961 1110.0h2V1124h-2zM1971 1094.0h2V1124h-2zM1977 1094.0h2V1124h-2zM1983 1100.1h2V1124h-2zM1985 1102.0h2V1124h-2zM1987 1088.2h2V1124h-2zM1991 1110.0h2V1124h-2zM1997 1104.0h2V1124h-2zM2003 1098.1h2V1124h-2zM2011 1096.1h2V1124h-2zM2021 1108.1h2V1124h-2zM2023 1105.9h2V1124h-2zM2025 1110.0h2V1124h-2zM2029 1100.1h2V1124h-2zM2033 1094.0h2V1124h-2zM2039 1094.0h2V1124h-2zM2041 1108.1h2V1124h-2zM2043 1048.1h2V1124h-2zM2049 1082.1h2V1124h-2zM2055 1104.0h2V1124h-2zM2057 1102.0h2V1124h-2zM2063 1102.0h2V1124h-2zM2071 1110.0h2V1124h-2zM2075 1110.0h2V1124h-2zM2083 1098.1h2V1124h-2zM2085 1102.0h2V1124h-2zM2087 1102.0h2V1124h-2zM2089 1090.1h2V1124h-2zM2103 1092.1h2V1124h-2zM2107 1116.0h2V1124h-2zM2109 1118.0h2V1124h-2zM2111 1113.9h2V1124h-2zM2117 1116.0h2V1124h-2zM2119 1110.0h2V1124h-2zM2127 1118.0h2V1124h-2zM2129 1116.0h2V1124h-2zM2135 1118.0h2V1124h-2zM2139 1118.0h2V1124h-2zM2147 1113.9h2V1124h-2zM2149 1113.9h2V1124h-2zM2151 1108.1h2V1124h-2zM2153 1113.9h2V1124h-2zM2155 1080.0h2V1124h-2zM2161 1110.0h2V1124h-2zM2169 1105.9h2V1124h-2zM2171 1094.0h2V1124h-2zM2173 1102.0h2V1124h-2zM2181 1105.9h2V1124h-2zM2189 1104.0h2V1124h-2zM2191 1105.9h2V1124h-2zM2193 1100.1h2V1124h-2zM2199 1105.9h2V1124h-2zM2207 1112.0h2V1124h-2zM2209 1110.0h2V1124h-2zM2213 1100.1h2V1124h-2zM2217 1108.0h2V1124h-2zM2219 1106.0h2V1124h-2zM2221 1094.2h2V1124h-2zM2223 1108.0h2V1124h-2zM2233 1106.0h2V1124h-2zM2235 1098.1h2V1124h-2zM2239 1115.9h2V1124h-2zM2241 1112.0h2V1124h-2zM2243 1108.0h2V1124h-2zM2249 1108.0h2V1124h-2zM2251 1112.0h2V1124h-2zM2265 1110.0h2V1124h-2zM2267 1110.0h2V1124h-2zM2271 1106.0h2V1124h-2zM2283 1114.0h2V1124h-2zM2287 1114.0h2V1124h-2zM2291 1114.0h2V1124h-2zM2295 1115.9h2V1124h-2zM2297 1112.0h2V1124h-2zM2301 1102.1h2V1124h-2zM2303 1100.1h2V1124h-2zM2315 1117.9h2V1124h-2zM2317 1117.9h2V1124h-2zM2323 1119.9h2V1124h-2zM2329 1115.9h2V1124h-2zM2333 1120.2h2V1124h-2zM2335 1119.9h2V1124h-2zM2337 1117.9h2V1124h-2zM2339 1102.1h2V1124h-2zM2341 1067.9h2V1124h-2zM2347 1100.1h2V1124h-2zM2349 1094.2h2V1124h-2zM2355 1108.0h2V1124h-2zM2357 1106.0h2V1124h-2zM2359 1088.2h2V1124h-2zM2367 1100.1h2V1124h-2zM2369 1106.0h2V1124h-2zM2373 1100.1h2V1124h-2zM2377 1100.1h2V1124h-2zM2383 1104.1h2V1124h-2zM2393 1110.0h2V1124h-2zM2397 1108.0h2V1124h-2zM2401 1106.0h2V1124h-2zM2403 1106.0h2V1124h-2zM2409 1112.0h2V1124h-2zM2411 1069.9h2V1124h-2zM2415 1106.0h2V1124h-2zM2421 1110.0h2V1124h-2zM2423 1112.0h2V1124h-2zM2427 1104.1h2V1124h-2zM2429 1104.1h2V1124h-2zM2433 1094.2h2V1124h-2zM2435 1102.1h2V1124h-2z"/></g>
<g shape-rendering="crispEdges"><path fill="#0a9e7a" d="M47 844.8h2V855.8h-2zM51 863.9h2V878.0h-2zM53 846.4h2V868.9h-2zM57 854.8h2V866.9h-2zM63 848.8h2V862.9h-2zM69 852.8h2V858.9h-2zM71 852.8h2V858.9h-2zM73 852.8h2V858.9h-2zM81 850.8h2V858.9h-2zM89 854.8h2V861.9h-2zM91 858.9h2V864.9h-2zM95 850.8h2V858.9h-2zM101 852.8h2V860.9h-2zM105 846.8h2V854.8h-2zM115 902.1h2V931.3h-2zM117 892.1h2V907.2h-2zM119 880.0h2V897.1h-2zM123 928.3h2V955.5h-2zM127 924.3h2V943.4h-2zM133 908.2h2V943.4h-2zM135 900.1h2V915.2h-2zM141 923.3h2V939.4h-2zM143 916.2h2V931.3h-2zM145 910.2h2V923.3h-2zM151 910.2h2V923.3h-2zM153 904.1h2V937.4h-2zM155 878.0h2V927.3h-2zM157 879.0h2V899.1h-2zM159 866.9h2V887.0h-2zM163 850.8h2V877.0h-2zM169 863.9h2V883.0h-2zM171 853.8h2V868.9h-2zM173 851.8h2V868.9h-2zM175 850.8h2V863.9h-2zM177 835.7h2V854.8h-2zM179 826.6h2V838.7h-2zM181 830.7h2V839.7h-2zM185 800.5h2V840.7h-2zM187 766.2h2V805.5h-2zM191 766.2h2V783.4h-2zM195 766.2h2V778.3h-2zM201 773.3h2V781.3h-2zM207 768.3h2V801.5h-2zM213 772.3h2V783.4h-2zM219 818.6h2V862.9h-2zM221 818.6h2V834.7h-2zM225 821.6h2V836.7h-2zM227 822.6h2V839.7h-2zM235 814.6h2V841.7h-2zM237 808.5h2V839.7h-2zM239 796.4h2V816.6h-2zM241 776.3h2V800.5h-2zM245 794.4h2V805.5h-2zM249 798.5h2V804.5h-2zM259 800.5h2V812.5h-2zM261 798.5h2V806.5h-2zM267 800.5h2V812.5h-2zM269 798.5h2V806.5h-2zM277 802.5h2V817.6h-2zM281 809.5h2V817.6h-2zM283 806.5h2V817.6h-2zM285 800.5h2V809.5h-2zM287 788.4h2V808.5h-2zM295 825.6h2V845.8h-2zM299 822.6h2V880.0h-2zM301 828.7h2V839.7h-2zM303 810.5h2V831.7h-2zM307 806.5h2V825.6h-2zM311 794.4h2V813.6h-2zM313 738.1h2V793.4h-2zM317 740.1h2V783.4h-2zM329 782.3h2V803.5h-2zM331 774.3h2V787.4h-2zM341 812.3h2V829.5h-2zM343 812.3h2V833.5h-2zM345 802.3h2V818.4h-2zM349 812.3h2V826.4h-2zM353 820.4h2V853.6h-2zM355 818.4h2V831.5h-2zM363 818.4h2V831.5h-2zM365 786.2h2V830.5h-2zM371 802.3h2V831.5h-2zM373 802.3h2V820.4h-2zM375 792.2h2V811.3h-2zM381 790.2h2V813.4h-2zM383 786.2h2V800.3h-2zM385 790.2h2V805.3h-2zM391 808.3h2V829.5h-2zM397 816.4h2V841.5h-2zM403 820.4h2V835.5h-2zM405 820.4h2V830.5h-2zM407 820.4h2V831.5h-2zM411 822.4h2V839.5h-2zM413 820.4h2V835.5h-2zM415 820.4h2V829.5h-2zM425 878.8h2V897.9h-2zM429 872.7h2V904.0h-2zM431 872.7h2V881.8h-2zM435 872.7h2V882.8h-2zM443 878.8h2V885.8h-2zM445 874.8h2V889.9h-2zM455 876.8h2V897.9h-2zM459 874.8h2V881.8h-2zM463 874.8h2V879.8h-2zM465 874.8h2V879.8h-2zM471 876.8h2V889.9h-2zM473 876.8h2V891.9h-2zM475 866.7h2V887.8h-2zM495 893.9h2V908.0h-2zM497 874.8h2V901.9h-2zM501 876.8h2V897.9h-2zM507 868.7h2V881.8h-2zM517 872.7h2V899.9h-2zM519 884.8h2V904.0h-2zM521 880.8h2V893.9h-2zM523 868.7h2V881.8h-2zM527 868.7h2V881.8h-2zM529 866.7h2V878.8h-2zM531 854.6h2V866.7h-2zM539 884.8h2V901.9h-2zM541 856.6h2V887.8h-2zM543 854.6h2V865.7h-2zM553 858.7h2V871.7h-2zM557 848.6h2V869.7h-2zM559 848.6h2V859.7h-2zM561 848.6h2V859.7h-2zM569 868.7h2V877.8h-2zM571 868.7h2V877.8h-2zM583 862.7h2V887.8h-2zM593 930.1h2V963.3h-2zM595 924.1h2V945.2h-2zM599 929.1h2V942.2h-2zM601 923.1h2V937.2h-2zM603 916.0h2V931.1h-2zM607 920.1h2V932.1h-2zM611 909.0h2V929.1h-2zM613 898.9h2V915.0h-2zM615 864.7h2V898.9h-2zM619 883.8h2V891.9h-2zM623 884.8h2V893.9h-2zM635 869.9h2V889.2h-2zM641 883.5h2V915.2h-2zM643 880.1h2V901.6h-2zM655 901.6h2V908.4h-2zM657 903.9h2V914.1h-2zM665 911.8h2V931.1h-2zM673 932.2h2V959.4h-2zM679 945.8h2V967.3h-2zM683 935.6h2V959.4h-2zM685 926.6h2V941.3h-2zM687 916.4h2V927.7h-2zM689 893.7h2V918.6h-2zM699 914.1h2V928.8h-2zM701 909.6h2V923.2h-2zM707 907.3h2V918.6h-2zM709 888.0h2V909.6h-2zM711 854.0h2V907.3h-2zM717 856.3h2V881.2h-2zM719 846.1h2V876.7h-2zM729 877.8h2V901.6h-2zM731 846.1h2V885.8h-2zM733 822.3h2V855.2h-2zM737 767.9h2V839.3h-2zM739 782.7h2V822.3h-2zM747 801.9h2V839.3h-2zM757 816.7h2V834.8h-2zM759 798.5h2V825.7h-2zM761 794.0h2V813.3h-2zM763 788.3h2V814.4h-2zM773 883.5h2V925.4h-2zM779 891.4h2V928.8h-2zM789 901.6h2V959.4h-2zM795 916.4h2V943.5h-2zM799 914.1h2V928.8h-2zM801 903.9h2V923.2h-2zM803 893.7h2V922.0h-2zM811 934.5h2V965.1h-2zM817 952.6h2V967.3h-2zM821 943.5h2V971.9h-2zM825 940.1h2V956.0h-2zM827 940.1h2V954.9h-2zM839 957.1h2V971.9h-2zM847 967.3h2V1025.1h-2zM851 952.6h2V980.9h-2zM853 907.3h2V966.2h-2zM859 920.9h2V933.4h-2zM867 948.1h2V973.0h-2zM869 945.8h2V977.5h-2zM871 868.8h2V957.1h-2zM875 897.1h2V919.8h-2zM877 898.2h2V916.4h-2zM879 892.6h2V916.4h-2zM885 908.4h2V919.8h-2zM893 918.6h2V935.6h-2zM895 854.0h2V934.5h-2zM897 835.9h2V881.2h-2zM907 891.4h2V909.6h-2zM909 892.6h2V918.6h-2zM911 892.6h2V901.6h-2zM915 894.8h2V909.6h-2zM929 948.2h2V973.4h-2zM931 952.3h2V969.4h-2zM935 959.3h2V981.5h-2zM937 948.2h2V965.4h-2zM939 940.2h2V955.3h-2zM947 938.2h2V957.3h-2zM951 942.2h2V957.3h-2zM953 944.2h2V951.3h-2zM955 928.1h2V947.2h-2zM959 934.1h2V943.2h-2zM961 926.1h2V951.3h-2zM963 918.0h2V933.1h-2zM969 914.0h2V927.1h-2zM971 914.0h2V927.1h-2zM973 879.8h2V913.0h-2zM979 896.9h2V921.1h-2zM981 889.9h2V911.0h-2zM983 886.8h2V902.9h-2zM985 864.7h2V896.9h-2zM989 822.4h2V885.8h-2zM991 841.5h2V863.7h-2zM999 848.6h2V865.7h-2zM1005 872.7h2V917.0h-2zM1007 864.7h2V882.8h-2zM1015 879.8h2V897.9h-2zM1017 877.8h2V886.8h-2zM1019 830.5h2V883.8h-2zM1023 858.7h2V877.8h-2zM1025 792.2h2V859.7h-2zM1027 776.1h2V815.4h-2zM1035 796.2h2V820.4h-2zM1041 822.4h2V849.6h-2zM1045 855.6h2V881.8h-2zM1047 847.6h2V866.7h-2zM1053 852.6h2V873.8h-2zM1061 879.8h2V909.0h-2zM1063 874.8h2V891.9h-2zM1067 864.7h2V898.9h-2zM1069 848.6h2V869.7h-2zM1073 837.0h2V862.0h-2zM1075 833.0h2V855.0h-2zM1077 823.0h2V840.0h-2zM1079 807.0h2V826.0h-2zM1081 649.0h2V823.0h-2zM1083 642.0h2V663.0h-2zM1085 527.0h2V643.0h-2zM1087 457.0h2V546.0h-2zM1095 472.0h2V561.0h-2zM1097 487.0h2V546.0h-2zM1107 588.0h2V614.0h-2zM1111 606.0h2V638.0h-2zM1117 665.0h2V727.0h-2zM1123 674.0h2V727.0h-2zM1125 659.0h2V699.0h-2zM1127 552.0h2V671.0h-2zM1133 569.0h2V614.0h-2zM1137 557.0h2V634.0h-2zM1141 588.0h2V627.0h-2zM1145 582.0h2V658.0h-2zM1149 612.0h2V655.0h-2zM1153 618.0h2V658.0h-2zM1165 656.5h2V709.0h-2zM1167 658.0h2V703.0h-2zM1169 665.0h2V700.0h-2zM1171 660.0h2V695.0h-2zM1173 643.0h2V677.0h-2zM1175 600.5h2V665.0h-2zM1179 558.0h2V653.0h-2zM1183 573.0h2V612.0h-2zM1187 545.0h2V590.0h-2zM1191 529.0h2V579.0h-2zM1193 547.0h2V582.0h-2zM1201 560.5h2V596.0h-2zM1203 564.0h2V584.0h-2zM1205 531.0h2V558.0h-2zM1207 524.0h2V555.0h-2zM1209 517.0h2V552.0h-2zM1215 563.5h2V592.0h-2zM1217 572.0h2V594.0h-2zM1221 572.0h2V591.0h-2zM1225 565.5h2V599.5h-2zM1227 555.0h2V597.0h-2zM1231 529.0h2V573.0h-2zM1233 510.0h2V551.0h-2zM1235 491.0h2V529.0h-2zM1237 455.0h2V528.0h-2zM1241 422.0h2V467.0h-2zM1245 506.0h2V547.0h-2zM1247 475.0h2V527.0h-2zM1249 450.0h2V507.0h-2zM1251 450.0h2V485.0h-2zM1253 440.0h2V505.0h-2zM1257 404.0h2V484.0h-2zM1265 384.0h2V420.0h-2zM1267 364.0h2V410.0h-2zM1269 372.0h2V404.0h-2zM1271 352.0h2V388.0h-2zM1273 274.0h2V351.0h-2zM1275 266.0h2V321.0h-2zM1279 302.0h2V332.0h-2zM1283 249.0h2V312.0h-2zM1285 242.0h2V274.0h-2zM1287 176.0h2V258.0h-2zM1289 106.0h2V201.0h-2zM1297 208.0h2V259.0h-2zM1299 198.0h2V223.0h-2zM1309 214.0h2V300.0h-2zM1313 240.0h2V287.0h-2zM1317 190.0h2V281.0h-2zM1325 247.0h2V292.0h-2zM1327 247.0h2V270.0h-2zM1333 257.0h2V285.0h-2zM1337 218.0h2V273.0h-2zM1341 258.0h2V282.0h-2zM1347 261.0h2V292.0h-2zM1351 261.0h2V283.0h-2zM1353 258.0h2V276.0h-2zM1355 170.0h2V270.0h-2zM1371 300.0h2V375.0h-2zM1381 344.0h2V356.0h-2zM1389 314.0h2V374.0h-2zM1391 320.0h2V344.0h-2zM1395 320.0h2V340.0h-2zM1399 290.0h2V358.0h-2zM1401 288.0h2V338.0h-2zM1403 285.0h2V316.0h-2zM1409 309.0h2V329.0h-2zM1415 338.0h2V371.0h-2zM1419 334.0h2V364.0h-2zM1421 319.0h2V339.0h-2zM1423 326.0h2V339.0h-2zM1433 330.0h2V365.0h-2zM1437 380.0h2V402.0h-2zM1441 389.0h2V419.0h-2zM1443 387.0h2V404.0h-2zM1447 385.7h2V405.7h-2zM1451 378.1h2V403.3h-2zM1453 366.3h2V393.3h-2zM1457 374.0h2V395.7h-2zM1459 359.9h2V379.8h-2zM1461 356.3h2V371.6h-2zM1465 358.1h2V387.5h-2zM1467 359.9h2V367.5h-2zM1469 315.2h2V367.5h-2zM1473 290.0h2V341.7h-2zM1477 326.4h2V335.8h-2zM1483 359.9h2V387.5h-2zM1485 350.5h2V374.0h-2zM1487 351.6h2V369.8h-2zM1495 369.8h2V383.9h-2zM1503 383.9h2V413.9h-2zM1505 382.2h2V397.4h-2zM1507 356.3h2V385.7h-2zM1509 349.9h2V369.8h-2zM1517 366.3h2V379.8h-2zM1521 374.0h2V393.9h-2zM1523 356.3h2V383.9h-2zM1525 328.2h2V375.7h-2zM1527 336.4h2V359.9h-2zM1531 354.0h2V371.6h-2zM1533 352.2h2V366.9h-2zM1537 344.0h2V364.0h-2zM1539 334.0h2V350.5h-2zM1543 332.3h2V345.8h-2zM1547 338.1h2V349.9h-2zM1549 338.1h2V348.1h-2zM1553 342.2h2V351.6h-2zM1571 350.5h2V367.5h-2zM1581 368.1h2V375.7h-2zM1591 358.1h2V377.5h-2zM1593 354.0h2V369.8h-2zM1601 366.3h2V379.8h-2zM1605 362.2h2V369.8h-2zM1613 362.2h2V377.5h-2zM1615 342.2h2V371.6h-2zM1617 335.2h2V347.5h-2zM1623 314.1h2V339.9h-2zM1627 322.3h2V335.8h-2zM1629 285.9h2V331.7h-2zM1637 300.0h2V317.6h-2zM1645 318.1h2V335.5h-2zM1649 320.4h2V329.5h-2zM1665 352.1h2V377.8h-2zM1669 365.7h2V379.3h-2zM1673 364.2h2V375.5h-2zM1679 360.4h2V373.3h-2zM1683 360.4h2V371.0h-2zM1685 355.9h2V364.9h-2zM1687 336.3h2V359.7h-2zM1691 346.1h2V357.4h-2zM1693 342.3h2V355.9h-2zM1695 345.3h2V352.9h-2zM1697 336.3h2V349.9h-2zM1701 337.8h2V343.1h-2zM1705 315.9h2V343.8h-2zM1707 302.3h2V325.7h-2zM1709 263.8h2V309.1h-2zM1713 274.4h2V297.0h-2zM1715 263.8h2V279.6h-2zM1721 315.9h2V341.5h-2zM1725 302.3h2V325.7h-2zM1727 287.9h2V307.6h-2zM1733 311.3h2V321.2h-2zM1735 308.3h2V320.4h-2zM1737 306.1h2V317.4h-2zM1739 303.8h2V313.6h-2zM1741 294.0h2V309.8h-2zM1751 312.1h2V325.7h-2zM1755 307.6h2V319.7h-2zM1757 300.0h2V329.5h-2zM1761 313.6h2V329.5h-2zM1763 312.1h2V319.7h-2zM1771 313.6h2V323.4h-2zM1773 312.1h2V319.7h-2zM1775 305.3h2V319.7h-2zM1779 303.8h2V319.7h-2zM1785 326.4h2V340.8h-2zM1789 328.0h2V341.5h-2zM1793 330.2h2V341.5h-2zM1801 346.1h2V357.4h-2zM1803 341.5h2V349.9h-2zM1805 341.5h2V349.9h-2zM1813 338.5h2V349.9h-2zM1815 325.7h2V339.3h-2zM1817 318.1h2V335.5h-2zM1819 312.1h2V337.8h-2zM1821 312.1h2V325.7h-2zM1823 292.5h2V324.2h-2zM1831 308.3h2V328.0h-2zM1833 300.0h2V313.6h-2zM1835 250.2h2V302.3h-2zM1839 287.9h2V301.5h-2zM1841 269.8h2V294.0h-2zM1847 385.0h2V426.0h-2zM1859 395.0h2V434.0h-2zM1863 398.0h2V415.0h-2zM1865 399.0h2V431.0h-2zM1867 390.0h2V403.0h-2zM1873 398.0h2V413.0h-2zM1877 405.0h2V427.0h-2zM1883 480.0h2V499.0h-2zM1885 482.0h2V488.0h-2zM1887 472.0h2V485.0h-2zM1893 466.0h2V493.0h-2zM1915 570.0h2V602.0h-2zM1917 560.0h2V586.0h-2zM1919 561.0h2V578.0h-2zM1921 548.0h2V568.0h-2zM1925 548.0h2V564.0h-2zM1927 548.0h2V556.0h-2zM1929 516.0h2V531.0h-2zM1931 470.0h2V530.0h-2zM1935 474.0h2V503.0h-2zM1939 483.7h2V500.0h-2zM1941 477.9h2V492.4h-2zM1945 500.1h2V513.6h-2zM1947 487.6h2V504.9h-2zM1949 485.6h2V498.2h-2zM1953 493.3h2V511.7h-2zM1963 522.3h2V558.0h-2zM1965 516.5h2V535.8h-2zM1967 509.8h2V535.8h-2zM1969 433.5h2V520.4h-2zM1973 477.9h2V512.6h-2zM1979 518.4h2V545.5h-2zM1981 504.0h2V519.4h-2zM1989 528.1h2V552.2h-2zM1993 516.5h2V531.9h-2zM1999 520.4h2V540.6h-2zM2001 523.3h2V541.6h-2zM2005 539.7h2V565.7h-2zM2007 540.6h2V553.2h-2zM2009 535.8h2V547.4h-2zM2013 520.4h2V556.1h-2zM2015 501.1h2V528.1h-2zM2019 483.7h2V515.5h-2zM2027 486.6h2V507.8h-2zM2031 476.0h2V502.0h-2zM2035 444.1h2V481.8h-2zM2045 531.9h2V638.1h-2zM2047 522.3h2V549.3h-2zM2051 514.6h2V527.1h-2zM2053 507.8h2V523.3h-2zM2061 530.0h2V541.6h-2zM2065 514.6h2V543.5h-2zM2067 512.6h2V537.7h-2zM2069 494.3h2V511.7h-2zM2073 499.1h2V521.3h-2zM2077 499.1h2V513.6h-2zM2079 444.1h2V499.1h-2zM2091 485.6h2V505.9h-2zM2093 476.0h2V498.2h-2zM2095 462.3h2V481.7h-2zM2097 456.2h2V473.7h-2zM2099 448.2h2V471.7h-2zM2105 448.2h2V459.6h-2zM2113 446.2h2V467.7h-2zM2115 448.2h2V460.3h-2zM2121 456.2h2V473.7h-2zM2125 458.3h2V463.6h-2zM2131 470.3h2V479.7h-2zM2133 466.3h2V477.7h-2zM2137 466.3h2V473.7h-2zM2141 468.3h2V475.7h-2zM2145 448.2h2V472.3h-2zM2157 509.9h2V527.4h-2zM2159 509.9h2V519.3h-2zM2163 507.9h2V520.0h-2zM2167 509.3h2V515.3h-2zM2175 526.0h2V551.5h-2zM2177 516.0h2V531.4h-2zM2179 509.9h2V524.0h-2zM2183 511.9h2V533.4h-2zM2185 507.9h2V527.4h-2zM2195 516.0h2V527.4h-2zM2197 511.9h2V535.4h-2zM2201 511.9h2V527.4h-2zM2203 505.9h2V517.3h-2zM2211 514.0h2V531.4h-2zM2215 526.0h2V541.5h-2zM2225 546.2h2V565.6h-2zM2227 540.8h2V562.3h-2zM2231 511.9h2V559.6h-2zM2237 514.0h2V527.4h-2zM2245 522.0h2V535.4h-2zM2253 538.1h2V549.2h-2zM2255 532.6h2V543.7h-2zM2257 528.9h2V535.4h-2zM2259 524.3h2V533.5h-2zM2261 519.7h2V528.0h-2zM2263 512.3h2V527.0h-2zM2273 522.4h2V535.4h-2zM2275 520.6h2V552.0h-2zM2277 516.0h2V528.9h-2zM2279 506.8h2V519.7h-2zM2281 490.1h2V517.8h-2zM2285 499.4h2V507.7h-2zM2293 513.2h2V519.7h-2zM2299 524.3h2V529.8h-2zM2305 540.9h2V553.8h-2zM2307 532.6h2V543.7h-2zM2309 537.2h2V547.3h-2zM2311 531.7h2V541.8h-2zM2319 538.1h2V547.3h-2zM2321 538.1h2V541.8h-2zM2325 537.2h2V543.7h-2zM2327 532.6h2V540.0h-2zM2343 610.1h2V625.6h-2zM2345 610.1h2V627.6h-2zM2351 620.2h2V633.6h-2zM2361 677.9h2V733.6h-2zM2363 663.8h2V691.3h-2zM2365 652.4h2V675.2h-2zM2371 660.5h2V677.2h-2zM2379 667.9h2V689.3h-2zM2381 662.5h2V673.2h-2zM2385 666.5h2V685.3h-2zM2387 667.2h2V685.3h-2zM2389 662.5h2V670.5h-2zM2391 646.4h2V666.5h-2zM2399 642.2h2V659.4h-2zM2405 662.4h2V671.6h-2zM2407 634.3h2V675.8h-2zM2413 646.4h2V685.9h-2zM2419 642.2h2V655.7h-2zM2425 652.3h2V661.5h-2zM2431 668.2h2V677.9h-2zM2437 688.0h2V693.8h-2z"/>
<path fill="#eb3b32" d="M43 834.7h2V847.8h-2zM45 838.7h2V852.8h-2zM49 846.8h2V879.0h-2zM55 846.8h2V868.9h-2zM59 855.8h2V864.9h-2zM65 851.8h2V859.9h-2zM67 852.8h2V862.9h-2zM75 852.8h2V860.9h-2zM77 855.8h2V866.9h-2zM79 855.8h2V862.9h-2zM85 848.8h2V854.8h-2zM87 850.8h2V858.9h-2zM93 858.9h2V861.9h-2zM97 852.8h2V862.9h-2zM99 852.8h2V860.9h-2zM107 844.8h2V854.8h-2zM109 848.8h2V885.0h-2zM111 879.0h2V905.2h-2zM113 877.0h2V913.2h-2zM121 886.0h2V947.4h-2zM129 910.2h2V931.3h-2zM131 918.2h2V947.4h-2zM137 900.1h2V917.2h-2zM139 910.2h2V941.4h-2zM149 910.2h2V931.3h-2zM161 869.9h2V879.0h-2zM165 857.8h2V881.0h-2zM183 831.7h2V842.7h-2zM193 756.2h2V791.4h-2zM197 764.2h2V784.4h-2zM199 768.3h2V785.4h-2zM203 768.3h2V796.4h-2zM205 776.3h2V799.5h-2zM211 762.2h2V795.4h-2zM215 778.3h2V817.6h-2zM217 808.5h2V846.8h-2zM223 818.6h2V835.7h-2zM229 824.6h2V836.7h-2zM233 826.6h2V839.7h-2zM243 794.4h2V821.6h-2zM247 794.4h2V804.5h-2zM253 790.4h2V808.5h-2zM255 800.5h2V812.5h-2zM257 802.5h2V815.6h-2zM263 788.4h2V805.5h-2zM265 794.4h2V809.5h-2zM271 796.4h2V827.6h-2zM275 809.5h2V817.6h-2zM279 804.5h2V816.6h-2zM289 786.4h2V833.7h-2zM291 818.6h2V830.7h-2zM297 824.6h2V843.8h-2zM305 810.5h2V824.6h-2zM309 798.5h2V818.6h-2zM319 746.1h2V781.3h-2zM321 760.2h2V781.3h-2zM323 776.3h2V792.4h-2zM325 782.3h2V803.5h-2zM327 784.4h2V803.5h-2zM333 766.2h2V819.6h-2zM337 806.5h2V823.6h-2zM339 808.5h2V831.7h-2zM347 798.3h2V828.5h-2zM351 810.3h2V845.6h-2zM359 812.3h2V841.5h-2zM361 818.4h2V839.5h-2zM367 794.2h2V839.5h-2zM369 820.4h2V835.5h-2zM379 794.2h2V819.4h-2zM387 788.2h2V805.3h-2zM389 794.2h2V829.5h-2zM393 810.3h2V829.5h-2zM395 824.4h2V839.5h-2zM401 814.4h2V829.5h-2zM409 818.4h2V835.5h-2zM417 820.4h2V839.5h-2zM421 836.5h2V873.8h-2zM423 860.7h2V901.9h-2zM427 870.7h2V893.9h-2zM433 872.7h2V885.8h-2zM437 871.7h2V882.3h-2zM439 870.7h2V881.8h-2zM447 874.8h2V883.8h-2zM449 874.8h2V888.9h-2zM451 880.8h2V897.9h-2zM453 886.8h2V918.0h-2zM457 876.8h2V881.8h-2zM467 876.8h2V884.8h-2zM469 880.8h2V888.9h-2zM477 864.7h2V875.8h-2zM479 871.7h2V887.8h-2zM481 873.8h2V886.8h-2zM485 875.8h2V885.8h-2zM487 876.8h2V888.9h-2zM489 877.8h2V890.9h-2zM491 880.8h2V895.9h-2zM493 890.9h2V910.0h-2zM499 870.7h2V887.8h-2zM505 876.8h2V897.9h-2zM509 866.7h2V875.8h-2zM511 869.7h2V884.8h-2zM513 876.8h2V906.0h-2zM515 880.8h2V899.9h-2zM533 858.7h2V893.9h-2zM535 872.7h2V885.8h-2zM537 884.8h2V898.9h-2zM547 846.6h2V861.7h-2zM549 856.6h2V869.7h-2zM551 858.7h2V873.8h-2zM555 854.6h2V875.8h-2zM563 846.6h2V877.8h-2zM565 870.7h2V878.8h-2zM573 871.7h2V881.8h-2zM575 872.7h2V881.8h-2zM577 872.7h2V887.8h-2zM579 878.8h2V893.9h-2zM581 882.8h2V895.9h-2zM585 862.7h2V877.8h-2zM589 870.7h2V881.8h-2zM591 876.8h2V991.5h-2zM597 919.0h2V937.2h-2zM605 915.0h2V937.2h-2zM617 868.7h2V890.9h-2zM621 882.8h2V897.9h-2zM625 884.6h2V891.4h-2zM627 885.2h2V890.9h-2zM631 885.8h2V890.3h-2zM633 885.8h2V891.4h-2zM637 884.6h2V907.3h-2zM639 891.4h2V923.2h-2zM645 884.6h2V909.6h-2zM647 888.0h2V905.6h-2zM649 891.4h2V901.6h-2zM653 900.5h2V907.3h-2zM659 907.3h2V919.8h-2zM661 909.6h2V923.7h-2zM663 911.8h2V927.7h-2zM667 916.4h2V935.6h-2zM669 916.4h2V951.5h-2zM675 924.3h2V948.1h-2zM677 939.0h2V949.2h-2zM681 934.5h2V958.3h-2zM691 898.2h2V909.6h-2zM695 903.9h2V916.4h-2zM697 909.6h2V928.8h-2zM703 900.5h2V918.6h-2zM705 909.6h2V923.2h-2zM715 864.2h2V886.9h-2zM721 850.6h2V883.5h-2zM723 840.4h2V883.5h-2zM725 864.2h2V882.4h-2zM727 864.2h2V902.8h-2zM741 782.7h2V808.7h-2zM743 794.0h2V818.9h-2zM745 782.7h2V849.5h-2zM749 809.9h2V834.8h-2zM751 815.0h2V838.2h-2zM753 820.0h2V841.6h-2zM765 788.3h2V841.6h-2zM767 804.2h2V841.6h-2zM769 822.3h2V883.5h-2zM771 872.2h2V943.5h-2zM775 908.4h2V937.9h-2zM781 890.3h2V918.6h-2zM783 900.5h2V957.1h-2zM785 906.2h2V957.1h-2zM787 932.2h2V975.3h-2zM791 903.9h2V943.5h-2zM793 905.0h2V941.3h-2zM805 896.0h2V923.2h-2zM807 916.4h2V933.4h-2zM809 916.4h2V959.4h-2zM813 941.3h2V959.4h-2zM815 948.1h2V966.2h-2zM823 948.1h2V957.1h-2zM829 936.8h2V950.3h-2zM831 941.3h2V951.5h-2zM833 945.8h2V952.6h-2zM835 948.1h2V975.3h-2zM837 963.9h2V974.1h-2zM843 959.4h2V991.1h-2zM845 988.9h2V1011.5h-2zM849 952.6h2V983.2h-2zM855 885.8h2V922.0h-2zM857 907.3h2V933.4h-2zM863 917.5h2V933.4h-2zM865 920.9h2V985.5h-2zM873 888.0h2V922.0h-2zM881 902.8h2V918.6h-2zM887 900.5h2V923.2h-2zM889 905.0h2V927.7h-2zM891 918.6h2V939.0h-2zM899 842.7h2V867.6h-2zM901 857.4h2V913.0h-2zM905 872.2h2V928.8h-2zM913 888.0h2V901.6h-2zM917 896.0h2V923.2h-2zM919 898.9h2V943.2h-2zM921 899.9h2V951.3h-2zM923 932.1h2V969.4h-2zM927 950.3h2V981.5h-2zM933 950.3h2V971.4h-2zM941 934.1h2V947.2h-2zM943 942.2h2V961.3h-2zM949 949.2h2V973.4h-2zM957 934.1h2V953.3h-2zM965 918.0h2V932.1h-2zM975 856.6h2V905.0h-2zM977 878.8h2V926.1h-2zM993 842.5h2V865.7h-2zM995 849.6h2V865.7h-2zM997 859.7h2V883.8h-2zM1001 851.6h2V869.7h-2zM1003 856.6h2V898.9h-2zM1011 866.7h2V884.8h-2zM1013 876.8h2V904.0h-2zM1021 830.5h2V888.9h-2zM1031 796.2h2V825.4h-2zM1033 792.2h2V819.4h-2zM1037 790.2h2V843.6h-2zM1039 808.3h2V842.5h-2zM1043 816.4h2V865.7h-2zM1049 846.6h2V863.7h-2zM1055 854.6h2V876.8h-2zM1057 860.7h2V875.8h-2zM1059 865.7h2V899.9h-2zM1065 879.8h2V904.0h-2zM1089 408.0h2V546.0h-2zM1091 472.0h2V548.0h-2zM1099 489.0h2V553.0h-2zM1101 535.0h2V584.0h-2zM1103 552.0h2V601.0h-2zM1105 576.0h2V612.0h-2zM1109 555.0h2V633.0h-2zM1115 569.0h2V745.0h-2zM1119 667.0h2V697.0h-2zM1121 674.0h2V720.0h-2zM1129 550.0h2V618.0h-2zM1131 557.0h2V618.0h-2zM1139 546.0h2V615.0h-2zM1143 582.0h2V640.0h-2zM1147 591.0h2V642.0h-2zM1151 618.0h2V644.0h-2zM1157 633.0h2V671.0h-2zM1159 634.0h2V671.0h-2zM1161 649.0h2V690.0h-2zM1163 655.0h2V715.0h-2zM1181 564.0h2V606.0h-2zM1185 576.0h2V606.0h-2zM1189 511.0h2V576.0h-2zM1195 552.0h2V595.0h-2zM1199 557.0h2V608.0h-2zM1211 519.0h2V552.0h-2zM1213 555.0h2V590.0h-2zM1223 576.0h2V602.0h-2zM1229 538.0h2V573.0h-2zM1243 441.0h2V551.0h-2zM1255 451.0h2V486.0h-2zM1259 416.0h2V450.0h-2zM1263 428.0h2V461.0h-2zM1277 278.0h2V342.0h-2zM1291 137.0h2V167.0h-2zM1293 150.0h2V243.0h-2zM1295 196.0h2V262.0h-2zM1301 192.0h2V240.0h-2zM1305 216.0h2V280.0h-2zM1307 206.0h2V308.0h-2zM1311 262.0h2V295.0h-2zM1315 252.0h2V287.0h-2zM1319 214.0h2V254.0h-2zM1321 236.0h2V285.0h-2zM1329 243.0h2V285.0h-2zM1331 239.0h2V300.0h-2zM1335 264.0h2V287.0h-2zM1339 222.0h2V273.0h-2zM1343 263.0h2V293.0h-2zM1349 262.0h2V283.0h-2zM1357 234.0h2V261.0h-2zM1359 256.0h2V276.0h-2zM1361 258.0h2V276.0h-2zM1363 266.0h2V290.0h-2zM1367 276.0h2V368.0h-2zM1369 350.0h2V392.0h-2zM1373 320.0h2V348.0h-2zM1375 331.0h2V355.0h-2zM1377 336.0h2V371.0h-2zM1379 334.0h2V364.0h-2zM1383 341.0h2V351.0h-2zM1385 330.0h2V378.0h-2zM1393 314.0h2V336.0h-2zM1397 324.0h2V336.0h-2zM1405 290.0h2V328.0h-2zM1411 309.0h2V321.0h-2zM1413 296.0h2V364.0h-2zM1417 334.0h2V354.0h-2zM1425 326.0h2V349.0h-2zM1427 331.0h2V368.0h-2zM1431 353.0h2V370.0h-2zM1435 348.0h2V452.0h-2zM1439 389.0h2V429.0h-2zM1445 374.0h2V399.8h-2zM1455 374.0h2V397.4h-2zM1463 358.1h2V379.8h-2zM1475 295.9h2V334.0h-2zM1479 326.4h2V357.5h-2zM1481 342.2h2V379.8h-2zM1489 352.2h2V365.7h-2zM1491 356.3h2V403.9h-2zM1497 365.7h2V381.0h-2zM1499 364.0h2V395.1h-2zM1501 379.8h2V396.3h-2zM1511 349.9h2V372.8h-2zM1515 352.2h2V379.8h-2zM1519 368.1h2V385.7h-2zM1529 342.2h2V374.0h-2zM1541 336.4h2V349.9h-2zM1545 338.1h2V357.5h-2zM1551 338.1h2V348.1h-2zM1557 342.2h2V349.9h-2zM1559 346.4h2V355.7h-2zM1561 348.1h2V352.2h-2zM1563 348.1h2V365.7h-2zM1565 358.1h2V375.7h-2zM1567 358.1h2V367.5h-2zM1569 359.9h2V374.0h-2zM1573 354.0h2V361.6h-2zM1575 355.2h2V364.0h-2zM1579 362.2h2V377.5h-2zM1583 369.8h2V375.7h-2zM1585 364.0h2V372.2h-2zM1587 371.6h2V389.8h-2zM1589 372.2h2V383.9h-2zM1595 354.0h2V374.0h-2zM1599 358.1h2V383.9h-2zM1603 366.3h2V374.0h-2zM1607 360.4h2V364.6h-2zM1609 364.0h2V371.6h-2zM1611 364.0h2V377.5h-2zM1621 336.4h2V345.8h-2zM1625 319.9h2V339.9h-2zM1631 291.7h2V305.2h-2zM1633 301.7h2V319.3h-2zM1635 303.5h2V313.5h-2zM1641 302.3h2V323.4h-2zM1643 315.9h2V343.8h-2zM1647 321.9h2V331.7h-2zM1651 320.4h2V341.5h-2zM1653 340.0h2V373.3h-2zM1655 349.9h2V361.2h-2zM1657 348.3h2V379.3h-2zM1659 359.7h2V380.0h-2zM1663 368.0h2V381.6h-2zM1667 358.2h2V387.6h-2zM1671 365.7h2V383.1h-2zM1675 360.4h2V369.5h-2zM1677 365.7h2V377.8h-2zM1689 343.8h2V355.9h-2zM1699 328.0h2V345.3h-2zM1711 226.0h2V289.5h-2zM1717 268.3h2V303.8h-2zM1719 279.6h2V333.2h-2zM1729 291.7h2V307.6h-2zM1731 300.0h2V328.0h-2zM1743 295.5h2V311.3h-2zM1747 300.0h2V311.3h-2zM1749 306.1h2V324.2h-2zM1753 314.4h2V323.4h-2zM1759 314.4h2V329.5h-2zM1767 307.6h2V318.1h-2zM1769 314.4h2V323.4h-2zM1777 297.8h2V314.4h-2zM1781 303.8h2V315.9h-2zM1783 309.8h2V353.6h-2zM1791 328.0h2V345.3h-2zM1795 332.5h2V351.4h-2zM1797 334.8h2V352.1h-2zM1799 338.5h2V359.7h-2zM1809 338.5h2V349.9h-2zM1811 338.5h2V349.9h-2zM1825 306.1h2V323.4h-2zM1827 306.1h2V323.4h-2zM1837 256.2h2V297.8h-2zM1843 269.8h2V313.6h-2zM1845 308.0h2V488.0h-2zM1851 390.0h2V402.0h-2zM1853 376.0h2V413.0h-2zM1855 386.0h2V413.0h-2zM1857 395.0h2V414.0h-2zM1861 394.0h2V438.0h-2zM1869 386.0h2V410.0h-2zM1875 406.0h2V427.0h-2zM1879 407.0h2V453.0h-2zM1881 453.0h2V512.0h-2zM1889 464.0h2V490.0h-2zM1895 458.0h2V506.0h-2zM1897 472.0h2V495.0h-2zM1899 478.0h2V514.0h-2zM1901 484.0h2V514.0h-2zM1903 492.0h2V534.0h-2zM1905 500.0h2V528.0h-2zM1907 518.0h2V553.0h-2zM1909 534.0h2V604.0h-2zM1911 580.0h2V608.0h-2zM1923 548.0h2V571.0h-2zM1937 476.0h2V496.0h-2zM1943 483.7h2V525.2h-2zM1951 485.6h2V497.2h-2zM1957 493.3h2V505.9h-2zM1959 492.4h2V541.6h-2zM1961 513.6h2V537.7h-2zM1971 472.1h2V505.9h-2zM1977 477.9h2V530.0h-2zM1983 504.0h2V526.2h-2zM1985 509.8h2V539.7h-2zM1987 531.9h2V582.1h-2zM1991 517.5h2V531.9h-2zM1995 519.4h2V543.5h-2zM2003 522.3h2V556.1h-2zM2011 535.8h2V565.7h-2zM2021 486.6h2V499.1h-2zM2023 486.6h2V507.8h-2zM2025 490.4h2V506.9h-2zM2029 485.6h2V504.0h-2zM2033 474.0h2V489.5h-2zM2037 455.7h2V476.0h-2zM2041 461.5h2V472.1h-2zM2043 459.6h2V603.4h-2zM2049 492.4h2V535.8h-2zM2055 515.5h2V541.6h-2zM2057 522.3h2V545.5h-2zM2063 530.0h2V545.5h-2zM2071 498.2h2V511.7h-2zM2075 501.1h2V515.5h-2zM2083 457.6h2V481.8h-2zM2085 468.3h2V497.2h-2zM2087 481.8h2V497.2h-2zM2089 476.0h2V511.7h-2zM2103 430.1h2V464.3h-2zM2107 448.2h2V461.6h-2zM2109 456.2h2V463.6h-2zM2111 458.3h2V469.7h-2zM2117 448.2h2V463.6h-2zM2119 456.2h2V487.8h-2zM2127 458.3h2V467.7h-2zM2129 462.3h2V477.7h-2zM2135 464.3h2V471.7h-2zM2139 464.3h2V475.7h-2zM2147 450.2h2V459.6h-2zM2149 456.2h2V479.7h-2zM2151 472.3h2V497.9h-2zM2153 474.4h2V491.1h-2zM2155 484.4h2V533.4h-2zM2161 509.9h2V520.0h-2zM2169 501.9h2V517.3h-2zM2171 511.9h2V538.1h-2zM2173 524.0h2V543.5h-2zM2181 509.9h2V531.4h-2zM2189 509.9h2V521.3h-2zM2191 511.9h2V521.3h-2zM2193 516.0h2V529.4h-2zM2199 520.0h2V539.5h-2zM2205 509.9h2V516.0h-2zM2209 511.3h2V523.4h-2zM2213 522.0h2V547.5h-2zM2217 528.1h2V541.5h-2zM2219 538.1h2V549.5h-2zM2221 548.2h2V569.7h-2zM2223 554.2h2V565.6h-2zM2233 509.9h2V519.3h-2zM2235 516.0h2V529.4h-2zM2239 511.9h2V525.4h-2zM2241 511.9h2V525.4h-2zM2243 524.0h2V535.4h-2zM2247 526.0h2V545.5h-2zM2251 536.3h2V545.5h-2zM2265 512.3h2V527.0h-2zM2267 521.5h2V527.0h-2zM2269 522.4h2V537.2h-2zM2283 498.5h2V507.7h-2zM2287 493.8h2V515.1h-2zM2289 512.3h2V521.5h-2zM2295 512.3h2V523.4h-2zM2297 522.4h2V533.5h-2zM2301 524.3h2V545.5h-2zM2303 538.1h2V563.9h-2zM2315 529.8h2V543.7h-2zM2317 536.3h2V552.0h-2zM2323 538.1h2V543.7h-2zM2329 529.8h2V540.0h-2zM2331 534.4h2V546.4h-2zM2335 538.1h2V549.2h-2zM2337 540.0h2V549.2h-2zM2339 548.3h2V586.1h-2zM2341 563.9h2V673.7h-2zM2347 604.1h2V637.7h-2zM2349 624.2h2V643.7h-2zM2353 618.2h2V635.6h-2zM2357 622.2h2V637.7h-2zM2359 632.3h2V699.4h-2zM2367 654.4h2V669.2h-2zM2369 663.8h2V679.3h-2zM2373 660.5h2V687.3h-2zM2377 666.5h2V687.3h-2zM2383 662.5h2V685.3h-2zM2393 641.4h2V661.1h-2zM2395 636.4h2V655.7h-2zM2401 644.3h2V667.8h-2zM2403 662.4h2V677.9h-2zM2409 640.1h2V654.0h-2zM2411 646.4h2V725.6h-2zM2415 632.2h2V659.8h-2zM2421 648.1h2V665.7h-2zM2423 652.3h2V663.6h-2zM2427 656.1h2V675.8h-2zM2429 668.2h2V685.9h-2zM2433 660.3h2V697.6h-2zM2435 684.2h2V703.9h-2z"/></g>
<line x1="42" y1="688" x2="2459" y2="688" stroke="#0a9e7a" stroke-width="2" stroke-dasharray="12 4"/>
<g shape-rendering="crispEdges"><rect x="2459" y="6" width="2" height="1121" fill="#9ea4ad"/>
<rect x="42" y="1125" width="2419" height="2" fill="#9ea4ad"/></g>
<rect x="2461" y="61.0" width="7" height="2" fill="#9ea4ad"/>
<text x="2474.00" y="70.46" font-size="24" fill="#131722" font-weight="normal" text-anchor="start" textLength="71.00" lengthAdjust="spacingAndGlyphs">0.6000</text>
<rect x="2461" y="120.7" width="7" height="2" fill="#9ea4ad"/>
<text x="2474.00" y="130.21" font-size="24" fill="#131722" font-weight="normal" text-anchor="start" textLength="71.00" lengthAdjust="spacingAndGlyphs">0.5800</text>
<rect x="2461" y="182.6" width="7" height="2" fill="#9ea4ad"/>
<text x="2474.00" y="192.06" font-size="24" fill="#131722" font-weight="normal" text-anchor="start" textLength="71.00" lengthAdjust="spacingAndGlyphs">0.5600</text>
<rect x="2461" y="246.7" width="7" height="2" fill="#9ea4ad"/>
<text x="2474.00" y="256.15" font-size="24" fill="#131722" font-weight="normal" text-anchor="start" textLength="71.00" lengthAdjust="spacingAndGlyphs">0.5400</text>
<rect x="2461" y="313.2" width="7" height="2" fill="#9ea4ad"/>
<text x="2474.00" y="322.67" font-size="24" fill="#131722" font-weight="normal" text-anchor="start" textLength="71.00" lengthAdjust="spacingAndGlyphs">0.5200</text>
<rect x="2461" y="382.3" width="7" height="2" fill="#9ea4ad"/>
<text x="2474.00" y="391.79" font-size="24" fill="#131722" font-weight="normal" text-anchor="start" textLength="71.00" lengthAdjust="spacingAndGlyphs">0.5000</text>
<rect x="2461" y="454.2" width="7" height="2" fill="#9ea4ad"/>
<text x="2474.00" y="463.74" font-size="24" fill="#131722" font-weight="normal" text-anchor="start" textLength="71.00" lengthAdjust="spacingAndGlyphs">0.4800</text>
<rect x="2461" y="529.2" width="7" height="2" fill="#9ea4ad"/>
<text x="2474.00" y="538.75" font-size="24" fill="#131722" font-weight="normal" text-anchor="start" textLength="71.00" lengthAdjust="spacingAndGlyphs">0.4600</text>
<rect x="2461" y="607.6" width="7" height="2" fill="#9ea4ad"/>
<text x="2474.00" y="617.09" font-size="24" fill="#131722" font-weight="normal" text-anchor="start" textLength="71.00" lengthAdjust="spacingAndGlyphs">0.4400</text>
<rect x="2461" y="775.6" width="7" height="2" fill="#9ea4ad"/>
<text x="2474.00" y="785.07" font-size="24" fill="#131722" font-weight="normal" text-anchor="start" textLength="71.00" lengthAdjust="spacingAndGlyphs">0.4000</text>
<rect x="2461" y="866.0" width="7" height="2" fill="#9ea4ad"/>
<text x="2474.00" y="875.47" font-size="24" fill="#131722" font-weight="normal" text-anchor="start" textLength="71.00" lengthAdjust="spacingAndGlyphs">0.3800</text>
<rect x="2461" y="961.3" width="7" height="2" fill="#9ea4ad"/>
<text x="2474.00" y="970.75" font-size="24" fill="#131722" font-weight="normal" text-anchor="start" textLength="71.00" lengthAdjust="spacingAndGlyphs">0.3600</text>
<rect x="2461" y="1062.0" width="7" height="2" fill="#9ea4ad"/>
<text x="2474.00" y="1071.49" font-size="24" fill="#131722" font-weight="normal" text-anchor="start" textLength="71.00" lengthAdjust="spacingAndGlyphs">0.3400</text>
<rect x="87.0" y="1127" width="2" height="7" fill="#9ea4ad"/>
<text x="88.00" y="1157.00" font-size="24" fill="#131722" font-weight="normal" text-anchor="middle" letter-spacing="-0.5">12 Feb</text>
<rect x="270.9" y="1127" width="2" height="7" fill="#9ea4ad"/>
<text x="271.90" y="1157.00" font-size="24" fill="#131722" font-weight="normal" text-anchor="middle" letter-spacing="-0.5">19 Feb</text>
<rect x="457.0" y="1127" width="2" height="7" fill="#9ea4ad"/>
<text x="458.00" y="1157.00" font-size="24" fill="#131722" font-weight="normal" text-anchor="middle" letter-spacing="-0.5">26 Feb</text>
<rect x="537.0" y="1127" width="2" height="7" fill="#9ea4ad"/>
<text x="538.00" y="1157.00" font-size="24" fill="#131722" font-weight="normal" text-anchor="middle" letter-spacing="-0.5">Mar</text>
<rect x="642.8" y="1127" width="2" height="7" fill="#9ea4ad"/>
<text x="643.80" y="1157.00" font-size="24" fill="#131722" font-weight="normal" text-anchor="middle" letter-spacing="-0.5">5 Mar</text>
<rect x="828.8" y="1127" width="2" height="7" fill="#9ea4ad"/>
<text x="829.80" y="1157.00" font-size="24" fill="#131722" font-weight="normal" text-anchor="middle" letter-spacing="-0.5">12 Mar</text>
<rect x="1014.9" y="1127" width="2" height="7" fill="#9ea4ad"/>
<text x="1015.90" y="1157.00" font-size="24" fill="#131722" font-weight="normal" text-anchor="middle" letter-spacing="-0.5">19 Mar</text>
<rect x="1200.7" y="1127" width="2" height="7" fill="#9ea4ad"/>
<text x="1201.70" y="1157.00" font-size="24" fill="#131722" font-weight="normal" text-anchor="middle" letter-spacing="-0.5">26 Mar</text>
<rect x="1356.6" y="1127" width="2" height="7" fill="#9ea4ad"/>
<text x="1357.60" y="1157.00" font-size="24" fill="#131722" font-weight="normal" text-anchor="middle" letter-spacing="-0.5">Apr 2023</text>
<rect x="1568.7" y="1127" width="2" height="7" fill="#9ea4ad"/>
<text x="1569.70" y="1157.00" font-size="24" fill="#131722" font-weight="normal" text-anchor="middle" letter-spacing="-0.5">9 Apr</text>
<rect x="1754.9" y="1127" width="2" height="7" fill="#9ea4ad"/>
<text x="1755.90" y="1157.00" font-size="24" fill="#131722" font-weight="normal" text-anchor="middle" letter-spacing="-0.5">16 Apr</text>
<rect x="1941.0" y="1127" width="2" height="7" fill="#9ea4ad"/>
<text x="1941.95" y="1157.00" font-size="24" fill="#131722" font-weight="normal" text-anchor="middle" letter-spacing="-0.5">23 Apr</text>
<rect x="2152.9" y="1127" width="2" height="7" fill="#9ea4ad"/>
<text x="2153.90" y="1157.00" font-size="24" fill="#131722" font-weight="normal" text-anchor="middle" letter-spacing="-0.5">May</text>
<rect x="2310.7" y="1127" width="2" height="7" fill="#9ea4ad"/>
<text x="2311.70" y="1157.00" font-size="24" fill="#131722" font-weight="normal" text-anchor="middle" letter-spacing="-0.5">7 May</text>
<rect x="2446.9" y="1127" width="2" height="7" fill="#9ea4ad"/>
<text x="2447.90" y="1157.00" font-size="24" fill="#131722" font-weight="normal" text-anchor="middle" letter-spacing="-0.5">12 May</text>
<path d="M2460.6 688 L2475.4 674 V667.4 H2560.4 V708.4 H2475.4 V702 Z" fill="#13a07f" stroke="#7d9a93" stroke-width="0.8"/>
<text x="2482.00" y="696.70" font-size="24" fill="#ffffff" font-weight="normal" text-anchor="start" textLength="71.00" lengthAdjust="spacingAndGlyphs">0.4204</text>
<path d="M2438 1128 L2452 1141 H2480.6 V1182 H2375 V1141 H2424 Z" fill="#13a07f"/>
<text x="2380.50" y="1171.80" font-size="24" fill="#ffffff" font-weight="normal" text-anchor="start" textLength="93.00" lengthAdjust="spacingAndGlyphs">01:09:38</text>
<text x="222.40" y="60.90" font-size="25" fill="#434651" font-weight="normal" text-anchor="start" textLength="236.50" lengthAdjust="spacingAndGlyphs">BINANCE:XRPUSDT</text>
<text x="466.90" y="60.90" font-size="25" fill="#434651" font-weight="normal" text-anchor="start" textLength="50.60" lengthAdjust="spacingAndGlyphs">(2h)</text>
<text x="527.20" y="60.90" font-size="25" fill="#434651" font-weight="normal" text-anchor="start" textLength="9.90" lengthAdjust="spacingAndGlyphs">-</text>
<text x="544.70" y="60.90" font-size="25" fill="#434651" font-weight="normal" text-anchor="start" textLength="46.40" lengthAdjust="spacingAndGlyphs">Thu</text>
<text x="601.10" y="60.90" font-size="25" fill="#434651" font-weight="normal" text-anchor="start" textLength="28.00" lengthAdjust="spacingAndGlyphs">11</text>
<text x="639.00" y="60.90" font-size="25" fill="#434651" font-weight="normal" text-anchor="start" textLength="48.80" lengthAdjust="spacingAndGlyphs">May</text>
<text x="695.80" y="60.90" font-size="25" fill="#434651" font-weight="normal" text-anchor="start" textLength="30.00" lengthAdjust="spacingAndGlyphs">23</text>
<text x="736.40" y="60.90" font-size="25" fill="#434651" font-weight="normal" text-anchor="start" textLength="70.10" lengthAdjust="spacingAndGlyphs">18:00</text>
<path d="M88.4 40.6 Q89.3 39.8 90.4 39.9 H92.2 L106.1 54.1 L120 39.9 H121.9 Q123 39.8 123.8 40.6 V43.6 L108.2 59.3 Q106.1 61 104 59.3 L88.4 43.6 Z" fill="#434651"/>
<circle cx="176" cy="51.9" r="17.9" fill="#22252e"/>
<path d="M165 43.1 H167.3 L171.6 47.3 Q175.8 51.6 180 47.3 L184.3 43.1 H186.6" fill="none" stroke="#fff" stroke-width="2.3" stroke-linejoin="round"/>
<path d="M165 61.2 H167.3 L171.6 56.6 Q175.8 52.4 180 56.6 L184.5 61.2 H187.4" fill="none" stroke="#fff" stroke-width="2.3" stroke-linejoin="round"/>
<circle cx="2437.9" cy="39.9" r="29.9" fill="#3b459d"/>
<path d="M2417 51.5 L2430.5 38 L2440.6 48.3 L2458 31" fill="none" stroke="#fff" stroke-width="3"/>
<path d="M2450.7 30.3 H2459.9 V39.2" fill="none" stroke="#fff" stroke-width="3"/>
<text x="2477.50" y="48.00" font-size="29" fill="#131722" font-weight="bold" text-anchor="start" textLength="80.00" lengthAdjust="spacingAndGlyphs">Charts</text>
<rect x="2568" y="33" width="2.5" height="21" fill="#131722"/>
</svg>
</body></html>
